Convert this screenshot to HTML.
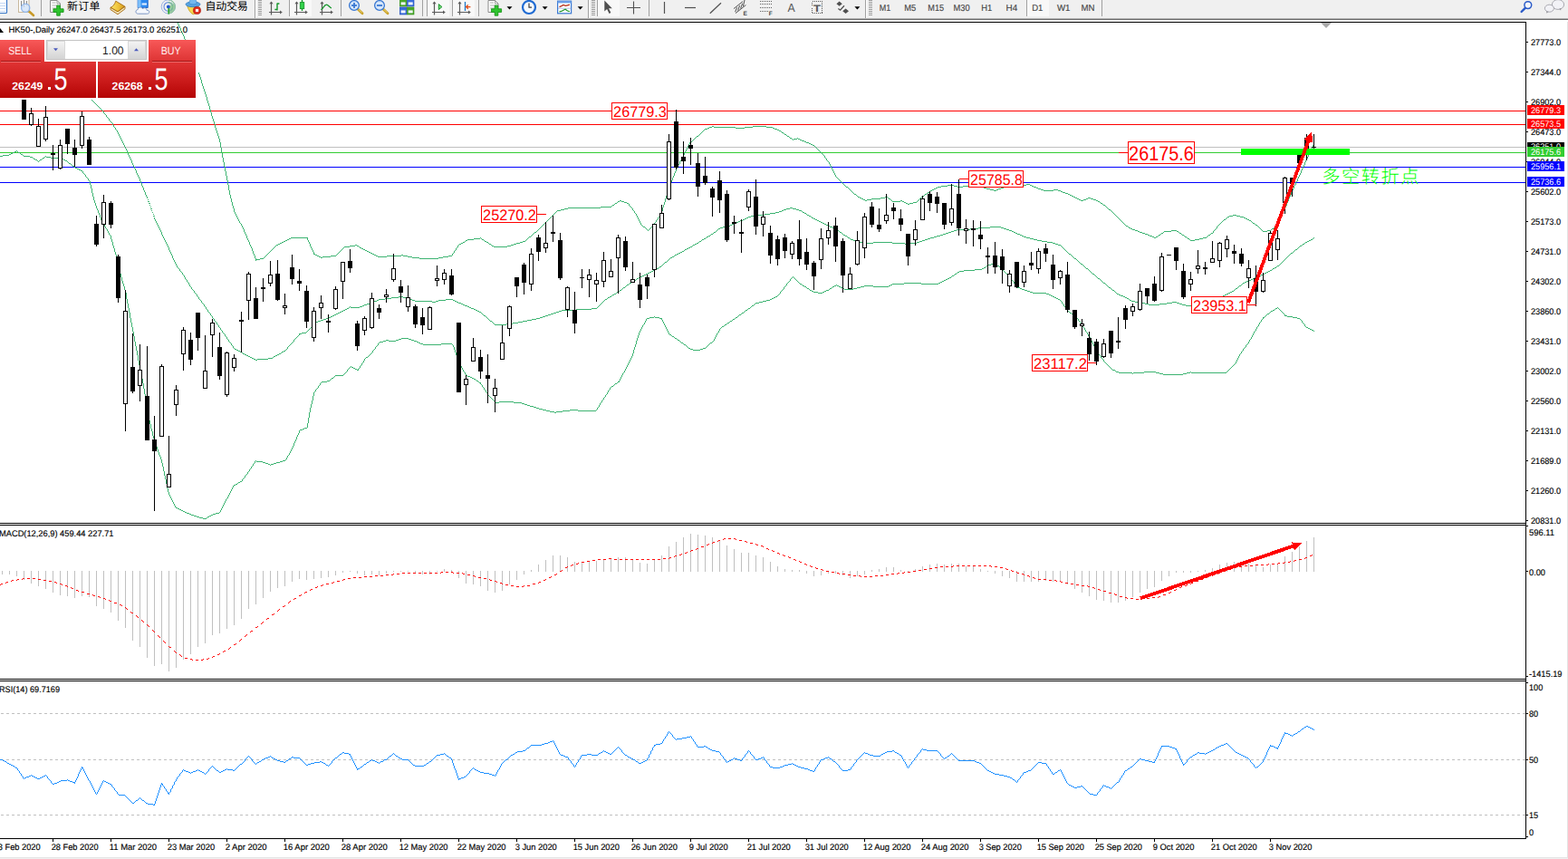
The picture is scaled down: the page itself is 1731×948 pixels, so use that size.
<!DOCTYPE html>
<html><head><meta charset="utf-8"><title>HK50 Daily</title>
<style>html,body{margin:0;padding:0;background:#fff;overflow:hidden}body{width:1731px;height:948px;font-family:"Liberation Sans",sans-serif}svg{display:block}</style>
</head><body>
<svg width="1731" height="948" viewBox="0 0 1731 948" font-family="Liberation Sans, sans-serif" shape-rendering="crispEdges" text-rendering="geometricPrecision">
<rect width="1731" height="948" fill="#fff"/>
<rect x="0" y="122" width="1684" height="1" fill="#ff0000"/>
<rect x="0" y="137" width="1684" height="1" fill="#ff0000"/>
<rect x="0" y="162" width="1684" height="1" fill="#c0c0c0"/>
<rect x="0" y="168" width="1684" height="1" fill="#32cd32"/>
<rect x="0" y="184" width="1684" height="1" fill="#0000ff"/>
<rect x="0" y="201" width="1684" height="1" fill="#0000ff"/>
<g id="bb">
<path d="M195 24.5h1M196.5 25V27M197.5 27V29M198.5 29V31M199.5 31V34M200.5 34V36M201.5 36V38M202.5 38V40M203.5 40V43M204.5 43V45M205.5 45V48M206.5 48V50M207.5 50V53M208.5 53V55M209.5 55V57M210.5 57V60M211.5 60V62M212.5 62V65M213.5 65V67M214.5 67V70M215.5 70V72M216.5 72V75M217.5 75V77M218.5 77V80M219.5 80V82M220.5 82V85M221.5 85V88M222.5 88V92M223.5 92V95M224.5 95V98M225.5 98V101M226.5 101V104M227.5 104V107M228.5 107V111M229.5 111V114M230.5 114V117M231.5 117V121M232.5 121V124M233.5 124V128M234.5 128V131M235.5 131V134M236.5 134V137M237.5 137V141M238.5 141V144M239.5 144V147M240.5 147V150M241.5 150V153M242.5 153V157M243.5 157V163M244.5 163V169M245.5 169V174M246.5 174V179M247.5 179V184M248.5 184V189M249.5 189V194M250.5 194V199M251.5 199V204M252.5 204V210M253.5 210V215M254.5 215V219M255.5 219V223M256.5 223V227M257.5 227V230M258.5 230V234M259.5 234V236M260.5 236V238M261.5 238V240M262.5 240V242M263.5 242V244M264.5 244V246M265 246.5h1M266.5 247V249M267.5 249V251M268.5 251V253M269.5 253V256M270.5 256V258M271.5 258V260M272.5 260V263M273.5 263V265M274.5 265V267M275.5 267V270M276.5 270V272M277.5 272V274M278.5 274V277M279.5 277V280M280.5 280V282M281.5 282V285M282.5 285V288M283 286.5H287M287 285.5H291M291 284.5h1M292 283.5h1M293 282.5h1M294 281.5h1M295 280.5h1M296 279.5h1M297 278.5h1M298 277.5h1M299 276.5h1M300 275.5h1M301 274.5h1M302 273.5h1M303 272.5h1M304 271.5h1M305 270.5H307M307 269.5H309M309 268.5H311M311 267.5H313M313 266.5H315M315 265.5H317M317 264.5H319M319 263.5H321M321 262.5H340M339.5 263V265M340.5 265V267M341.5 267V269M342.5 269V272M343.5 272V274M344.5 274V276M345.5 276V278M346.5 278V281M347 280.5h1M348 281.5H350M350 282.5H352M352 283.5H354M354 284.5H356M356 283.5H365M365 282.5H371M371 281.5h1M372 280.5h1M373 279.5h1M374 278.5h1M375 277.5h1M376 276.5h1M377 275.5h1M378 274.5h1M379 273.5h1M380 272.5H386M386 271.5H392M392 270.5H394M394 271.5H396M396 272.5h1M397 273.5H399M399 274.5H401M401 275.5H403M403 276.5H405M405 277.5H407M407 278.5H409M409 279.5H411M411 280.5H413M413 281.5H415M415 282.5H417M417 283.5H427M427 282.5H443M443 281.5H445M445 282.5H450M450 283.5H455M455 284.5H463M463 285.5H484M484 284.5H489M489 283.5H495M495 282.5H499M499.5 280V282M500 279.5h1M501.5 277V279M502 276.5h1M503.5 274V276M504 273.5h1M505.5 271V273M506 270.5h1M507 269.5H509M509 268.5H511M511 267.5H513M513 266.5h1M514 265.5H516M516 264.5H523M523 263.5H530M530 262.5h1M531 263.5h1M532 264.5H534M534 265.5h1M535 266.5H537M537 267.5H539M539 268.5h1M540 269.5H542M542 270.5h1M543 271.5H545M545 272.5H560M560 271.5H564M564 270.5H567M567 269.5H570M570 268.5H574M574 267.5H577M577 266.5H580M580 265.5h1M581 264.5h1M582 263.5h1M583 262.5h1M584 261.5H586M586 260.5h1M587 259.5h1M588 258.5h1M589 257.5h1M590 256.5H592M592 255.5h1M593 254.5h1M594 253.5h1M595 252.5h1M596 251.5h1M597 250.5h1M598 249.5h1M599 248.5h1M600 247.5h1M601 246.5h1M602 245.5h1M603 244.5h1M604 243.5h1M605 242.5h1M606 241.5h1M607 240.5h1M608 239.5h1M609 238.5h1M610 237.5h1M611 236.5h1M612 235.5h1M613 234.5h1M614 233.5h1M615 232.5H619M619 231.5H623M623 230.5H627M627 229.5H663M663 228.5H675M675 227.5h1M676 226.5H678M678 225.5h1M679 224.5H681M681 223.5h1M682 222.5H684M684 221.5H686M686 222.5H689M689 223.5H692M692 224.5H694M694.5 225V227M695 227.5h1M696 228.5h1M697 229.5h1M698.5 230V232M699 232.5h1M700.5 233V235M701 235.5h1M702.5 236V238M703.5 238V240M704.5 240V242M705.5 242V244M706.5 244V246M707.5 246V248M708 248.5h1M709 249.5h1M710 250.5H712M712 251.5h1M713 252.5h1M714 253.5h1M715 254.5h1M716 253.5h1M717 252.5h1M718 251.5h1M719 250.5h1M720 249.5h1M721 248.5h1M722.5 246V248M723 245.5h1M724.5 243V245M725 242.5h1M726.5 240V242M727 239.5h1M728.5 237V239M729.5 235V237M730.5 233V235M731.5 229V233M732.5 226V229M733.5 223V226M734.5 219V223M735.5 216V219M736.5 213V216M737.5 209V213M738.5 206V209M739.5 204V206M740.5 201V204M741.5 199V201M742.5 196V199M743.5 194V196M744.5 191V194M745.5 189V191M746.5 186V189M747 185.5h1M748.5 182V185M749 181.5h1M750.5 178V181M751 177.5h1M752.5 174V177M753 173.5h1M754.5 171V173M755.5 169V171M756.5 167V169M757.5 165V167M758.5 163V165M759.5 161V163M760.5 159V161M761.5 157V159M762 156.5H764M764 155.5h1M765 154.5h1M766 153.5h1M767 152.5h1M768 151.5h1M769 150.5H771M771 149.5h1M772 148.5h1M773 147.5h1M774 146.5h1M775 145.5h1M776 144.5h1M777 143.5h1M778 142.5H781M781 141.5H783M783 140.5H786M786 139.5H788M788 140.5H812M812 141.5H822M822 140.5H831M831 139.5H846M846 140.5H853M853 141.5H855M855 142.5H858M858 143.5H860M860 144.5H862M862 145.5h1M863 146.5H865M865 147.5h1M866 148.5H868M868 149.5h1M869 150.5H871M871 151.5h1M872 152.5H874M874 153.5h1M875 154.5h1M876 153.5H880M880 152.5h1M881 153.5H883M883 154.5H885M885 155.5H888M888 156.5H890M890 157.5H893M893 158.5H895M895 159.5H897M897 160.5H899M899 161.5h1M900 162.5h1M901 163.5h1M902 164.5h1M903 165.5h1M904 166.5h1M905 167.5h1M906 168.5h1M907 169.5h1M908 170.5h1M909 171.5h1M910.5 172V174M911 174.5h1M912.5 175V177M913 177.5h1M914 178.5h1M915.5 179V181M916.5 181V183M917.5 183V185M918.5 185V187M919.5 187V189M920.5 189V191M921.5 191V193M922.5 193V195M923 195.5h1M924 196.5h1M925 197.5h1M926 198.5h1M927 199.5h1M928 200.5h1M929 201.5h1M930 202.5h1M931 203.5h1M932 204.5h1M933 205.5h1M934 206.5H936M936 207.5h1M937 208.5h1M938 209.5h1M939 210.5h1M940 211.5h1M941 212.5h1M942 213.5h1M943 214.5H945M945 215.5h1M946 216.5h1M947 217.5H949M949 218.5H951M951 219.5H953M953 220.5H955M955 221.5H957M957 220.5H962M962 219.5H972M972 218.5H977M977 217.5H980M980 218.5h1M981 219.5H983M983 220.5h1M984 221.5h1M985 222.5H994M994 221.5H996M996 222.5H998M998 223.5H1000M1000 224.5H1002M1002 225.5H1004M1004 224.5H1008M1008 223.5H1012M1012 222.5h1M1013 221.5h1M1014 220.5h1M1015 219.5h1M1016 218.5h1M1017 217.5h1M1018 216.5H1020M1020 215.5h1M1021 214.5H1023M1023 213.5h1M1024 212.5H1026M1026 211.5h1M1027 210.5H1029M1029 209.5H1031M1031 208.5H1033M1033 207.5H1035M1035 206.5H1039M1039 205.5H1046M1046 204.5H1053M1053 205.5H1057M1057 206.5H1063M1063 205.5H1083M1083 206.5H1086M1086 207.5H1089M1089 208.5H1093M1093 209.5H1097M1097 210.5H1100M1100 209.5H1102M1102 208.5H1105M1105 207.5H1108M1108 206.5H1114M1114 205.5H1120M1120 204.5H1133M1133 203.5H1137M1137 204.5H1139M1139 205.5H1141M1141 206.5H1144M1144 207.5H1146M1146 208.5H1149M1149 209.5H1152M1152 210.5H1163M1163 209.5H1168M1168 210.5H1171M1171 211.5H1173M1173 212.5H1176M1176 213.5H1179M1179 214.5H1181M1181 215.5H1183M1183 216.5H1185M1185 217.5H1187M1187 218.5H1189M1189 219.5H1191M1191 220.5H1193M1193 221.5H1196M1196 220.5H1199M1199 219.5H1201M1201 218.5H1204M1204 219.5H1207M1207 220.5H1210M1210 221.5H1212M1212 222.5H1214M1214 223.5h1M1215 224.5H1217M1217 225.5h1M1218 226.5H1220M1220 227.5h1M1221 228.5h1M1222 229.5h1M1223 230.5h1M1224 231.5H1226M1226 232.5h1M1227 233.5h1M1228 234.5h1M1229 235.5h1M1230 236.5h1M1231 237.5h1M1232 238.5h1M1233 239.5h1M1234 240.5h1M1235 241.5h1M1236 242.5h1M1237 243.5h1M1238 244.5h1M1239 245.5h1M1240 246.5h1M1241 247.5h1M1242 248.5h1M1243 249.5H1245M1245 250.5h1M1246 251.5H1248M1248 252.5H1250M1250 253.5H1253M1253 254.5H1256M1256 255.5H1258M1258 256.5H1261M1261 257.5H1264M1264 258.5H1267M1267 259.5H1269M1269 260.5H1272M1272 261.5H1274M1274 262.5H1276M1276 261.5H1278M1278 260.5h1M1279 259.5H1281M1281 258.5h1M1282 257.5H1284M1284 256.5h1M1285 255.5H1293M1293 254.5H1299M1299 255.5H1301M1301 256.5h1M1302 257.5H1304M1304 258.5h1M1305 259.5H1307M1307 260.5h1M1308 261.5H1310M1310 262.5h1M1311 263.5H1313M1313 264.5h1M1314 265.5H1319M1319 264.5H1324M1324 263.5H1328M1328 262.5H1332M1332 261.5h1M1333 260.5h1M1334 259.5H1336M1336 258.5h1M1337 257.5H1339M1339.5 255V257M1340 254.5h1M1341 253.5h1M1342 252.5h1M1343.5 250V252M1344 249.5h1M1345 248.5h1M1346 247.5h1M1347 246.5h1M1348 245.5h1M1349 244.5h1M1350 243.5h1M1351 242.5H1353M1353 241.5h1M1354 240.5h1M1355 239.5H1357M1357 238.5H1361M1361 237.5H1365M1365 238.5H1369M1369 239.5H1373M1373 240.5H1375M1375 241.5H1377M1377 242.5H1379M1379 243.5H1381M1381 244.5h1M1382 245.5h1M1383 246.5H1385M1385 247.5h1M1386 248.5H1388M1388 249.5h1M1389 250.5h1M1390 251.5h1M1391 252.5h1M1392 253.5h1M1393 254.5h1M1394 255.5H1399M1399 254.5H1403M1403 253.5h1M1404 252.5H1406M1406 251.5h1M1407 250.5h1M1408 249.5h1M1409.5 247V249M1410.5 245V247M1411.5 243V245M1412.5 241V243M1413.5 239V241M1414.5 237V239M1415.5 235V237M1416.5 233V235M1417.5 231V233M1418.5 229V231M1419.5 227V229M1420.5 224V227M1421.5 222V224M1422.5 219V222M1423.5 217V219M1424.5 215V217M1425.5 212V215M1426.5 210V212M1427.5 208V210M1428.5 205V208M1429 204.5h1M1430.5 201V204M1431 200.5h1M1432.5 197V200M1433.5 195V197M1434.5 193V195M1435.5 191V193M1436.5 188V191M1437.5 186V188M1438.5 184V186M1439.5 182V184M1440.5 179V182M1441.5 177V179M1442.5 175V177M1443.5 173V175M1444.5 171V173M1445.5 168V171M1446.5 166V168M1447.5 164V166M1448.5 162V164M1449.5 160V162M1450.5 158V160" fill="none" stroke="#3cb371" stroke-width="1"/>
<path d="M92 100.5h1M93 101.5h1M94 102.5h1M95 103.5h1M96 104.5h1M97 105.5h1M98 106.5h1M99.5 107V109M100 109.5h1M101 110.5h1M102 111.5h1M103 112.5h1M104 113.5h1M105 114.5h1M106 115.5h1M107 116.5h1M108 117.5h1M109 118.5h1M110 119.5h1M111 120.5h1M112 121.5h1M113 122.5h1M114.5 123V125M115 125.5h1M116 126.5h1M117.5 127V129M118 129.5h1M119 130.5h1M120.5 131V133M121 133.5h1M122 134.5h1M123 135.5h1M124.5 136V138M125.5 138V140M126 140.5h1M127.5 141V143M128 143.5h1M129.5 144V146M130.5 146V148M131.5 148V150M132.5 150V152M133.5 152V154M134.5 154V156M135.5 156V158M136.5 158V160M137.5 160V162M138.5 162V164M139.5 164V166M140.5 166V169M141.5 169V171M142.5 171V173M143.5 173V175M144.5 175V177M145.5 177V180M146.5 180V182M147.5 182V184M148.5 184V186M149.5 186V188M150.5 188V191M151.5 191V193M152.5 193V195M153.5 195V197M154.5 197V200M155.5 200V202M156.5 202V205M157.5 205V207M158.5 207V210M159.5 210V212M160.5 212V215M161.5 215V217M162.5 217V219M163 220.5h1M163 222.5H165M164 224.5H166M165 226.5h1M166 228.5h1M166 230.5H168M167 232.5h1M168 234.5h1M169 236.5h1M169 238.5H171M170.5 240V242M171.5 242V244M172.5 244V246M173.5 246V248M174.5 248V250M175.5 250V252M176.5 252V254M177.5 254V256M178.5 256V259M179.5 259V261M180.5 261V263M181.5 263V265M182.5 265V267M183.5 267V269M184.5 269V271M185.5 271V273M186.5 273V276M187.5 276V278M188.5 278V280M189.5 280V282M190.5 282V285M191.5 285V287M192.5 287V289M193.5 289V291M194.5 291V293M195.5 293V295M196 295.5h1M197 296.5h1M198.5 297V299M199 299.5h1M200 300.5h1M201.5 301V303M202 303.5h1M203.5 304V306M204.5 306V308M205 308.5h1M206.5 309V311M207 311.5h1M208.5 312V314M209.5 314V316M210 316.5h1M211.5 317V319M212 319.5h1M213 320.5h1M214.5 321V323M215 323.5h1M216 324.5h1M217.5 325V327M218 327.5h1M219.5 328V330M220 330.5h1M221 331.5h1M222.5 332V334M223 334.5h1M224 335.5h1M225.5 336V338M226 338.5h1M227.5 339V341M228 341.5h1M229.5 342V344M230 344.5h1M231 345.5h1M232.5 346V348M233 348.5h1M234.5 349V351M235 351.5h1M236.5 352V354M237 354.5h1M238 355.5h1M239.5 356V358M240 358.5h1M241.5 359V361M242 361.5h1M243.5 362V364M244 364.5h1M245.5 365V367M246 367.5h1M247 368.5h1M248.5 369V371M249 371.5h1M250.5 372V374M251 374.5h1M252.5 375V377M253 377.5h1M254 378.5h1M255.5 379V381M256 381.5h1M257.5 382V384M258 384.5h1M259 385.5H261M261 386.5H263M263 387.5H265M265 388.5H267M267 389.5h1M268 390.5H270M270 391.5H272M272 392.5H274M274 393.5H276M276 394.5H278M278 395.5H280M280 396.5H282M282 397.5H284M284 396.5H296M296 395.5H301M301 394.5h1M302 393.5H304M304 392.5H306M306 391.5H308M308 390.5H310M310 389.5h1M311 388.5H313M313 387.5H315M315 386.5h1M316 385.5h1M317.5 383V385M318 382.5h1M319 381.5h1M320 380.5h1M321 379.5h1M322 378.5h1M323 377.5h1M324.5 375V377M325 374.5h1M326 373.5h1M327 372.5h1M328 371.5h1M329 370.5h1M330.5 368V370M331 368.5H333M333 367.5H338M338 366.5h1M339 365.5h1M340 364.5h1M341 363.5h1M342 362.5h1M343 361.5h1M344 360.5h1M345 359.5h1M346 358.5h1M347 357.5h1M348 356.5h1M349 355.5H351M351 354.5H354M354 353.5H357M357 352.5H360M360 351.5H363M363 350.5H365M365 349.5H367M367 348.5H369M369 347.5H371M371 346.5H373M373 345.5H375M375 344.5H377M377 343.5H379M379 342.5H381M381 341.5H383M383 340.5H385M385 339.5h1M386 338.5h1M387 339.5H397M397 338.5H400M400 337.5H402M402 336.5H405M405 335.5H408M408 334.5H410M410 333.5H413M413 332.5H416M416 331.5H418M418 330.5H425M425 329.5H432M432 328.5H440M440 327.5H445M445 328.5H448M448 329.5H451M451 330.5H455M455 331.5H458M458 332.5H477M477 333.5H481M481 332.5H484M484 331.5H492M492 330.5H500M500 331.5H502M502 332.5H504M504 333.5H506M506 334.5H509M509 335.5H511M511 336.5H513M513 337.5H516M516 338.5H518M518 339.5H520M520 340.5H523M523 341.5H525M525 342.5H527M527 343.5H529M529 344.5H531M531 345.5h1M532 346.5h1M533 347.5h1M534 348.5H536M536 349.5h1M537 350.5h1M538 351.5h1M539 352.5h1M540 353.5h1M541 354.5H543M543 355.5h1M544 356.5h1M545 357.5h1M546 358.5H559M559 357.5H566M566 356.5H572M572 355.5H577M577 354.5H582M582 353.5H587M587 352.5H592M592 351.5H596M596 350.5H599M599 349.5H602M602 348.5H605M605 347.5H608M608 346.5H611M611 345.5H614M614 344.5H617M617 343.5H620M620 342.5H636M636 341.5H653M653 340.5H659M659 339.5h1M660 338.5h1M661 337.5h1M662 336.5h1M663 335.5h1M664 334.5h1M665 333.5h1M666 332.5h1M667 331.5h1M668 330.5H670M670 329.5h1M671 328.5H673M673 327.5H675M675 326.5h1M676 325.5H678M678 324.5H680M680 323.5h1M681 322.5H683M683 321.5h1M684 320.5H686M686 319.5h1M687 318.5h1M688 317.5H690M690 316.5h1M691 315.5h1M692 314.5H694M694 313.5h1M695 312.5H697M697 311.5h1M698 310.5H700M700 309.5H702M702 308.5h1M703 307.5H705M705 306.5H707M707 305.5H709M709 304.5H711M711 303.5H713M713 302.5H715M715 301.5H717M717 300.5H719M719 299.5H721M721 298.5H723M723 297.5H725M725 296.5H727M727 295.5h1M728 294.5H730M730 293.5h1M731 292.5h1M732 291.5h1M733 290.5h1M734 289.5H736M736 288.5h1M737 287.5h1M738 286.5h1M739 285.5h1M740 284.5H742M742 283.5H744M744 282.5h1M745 281.5H747M747 280.5H749M749 279.5H751M751 278.5H753M753 277.5H755M755 276.5h1M756 275.5H758M758 274.5H760M760 273.5H762M762 272.5H764M764 271.5h1M765 270.5H767M767 269.5H769M769 268.5H771M771 267.5h1M772 266.5H774M774 265.5h1M775 264.5H777M777 263.5H779M779 262.5h1M780 261.5H782M782 260.5H784M784 259.5h1M785 258.5H787M787 257.5h1M788 256.5H790M790 255.5h1M791 254.5h1M792 253.5h1M793 252.5H795M795 251.5H798M798 250.5H803M803 249.5H806M806 248.5H808M808 247.5H810M810 246.5H813M813 245.5H815M815 244.5H817M817 243.5H820M820 242.5H822M822 241.5H824M824 240.5H826M826 239.5H829M829 238.5H837M837 237.5H844M844 236.5H850M850 235.5H856M856 234.5H860M860 233.5H863M863 232.5H865M865 231.5H868M868 230.5H872M872 229.5H875M875 230.5H879M879 231.5H882M882 232.5H885M885 233.5h1M886 234.5H888M888 235.5H890M890 236.5h1M891 237.5H893M893 238.5H895M895 239.5h1M896 240.5H898M898 241.5H900M900 242.5H902M902 243.5H904M904 244.5H906M906 245.5H908M908 246.5H910M910 247.5H912M912 248.5H914M914 249.5H916M916 250.5H919M919 251.5H921M921 252.5H924M924 253.5h1M925 254.5h1M926 255.5h1M927 256.5H929M929 257.5h1M930 258.5h1M931 259.5H933M933 260.5H935M935 261.5h1M936 262.5H938M938 263.5h1M939 264.5H942M942 265.5H944M944 266.5H947M947 267.5H952M952 268.5H964M964 267.5H985M985 268.5H999M999 269.5H1005M1005 268.5H1012M1012 267.5H1015M1015 266.5H1018M1018 265.5H1021M1021 264.5H1024M1024 263.5H1027M1027 262.5H1031M1031 261.5H1034M1034 260.5H1038M1038 259.5H1041M1041 258.5H1044M1044 257.5H1047M1047 256.5H1050M1050 255.5H1053M1053 254.5H1056M1056 253.5H1071M1071 252.5H1080M1080 251.5H1093M1093 250.5H1105M1105 251.5H1108M1108 252.5H1111M1111 253.5H1114M1114 254.5H1117M1117 255.5H1119M1119 256.5H1121M1121 257.5H1123M1123 258.5H1126M1126 259.5H1128M1128 260.5H1130M1130 261.5H1133M1133 262.5H1137M1137 263.5H1141M1141 264.5H1145M1145 265.5H1150M1150 266.5H1156M1156 267.5H1162M1162 268.5H1165M1165 269.5H1168M1168 270.5H1171M1171 271.5h1M1172 272.5h1M1173 273.5h1M1174 274.5h1M1175 275.5h1M1176 276.5h1M1177 277.5h1M1178 278.5h1M1179 279.5h1M1180 280.5H1182M1182 281.5h1M1183 282.5h1M1184 283.5h1M1185 284.5h1M1186 285.5H1188M1188 286.5h1M1189 287.5h1M1190 288.5h1M1191 289.5h1M1192 290.5h1M1193 291.5H1195M1195 292.5h1M1196 293.5h1M1197 294.5h1M1198 295.5h1M1199 296.5H1201M1201 297.5h1M1202 298.5h1M1203 299.5h1M1204 300.5h1M1205 301.5h1M1206 302.5H1208M1208 303.5h1M1209 304.5h1M1210 305.5h1M1211 306.5h1M1212 307.5H1214M1214 308.5h1M1215 309.5h1M1216 310.5h1M1217 311.5h1M1218 312.5H1220M1220 313.5h1M1221 314.5h1M1222 315.5h1M1223 316.5h1M1224 317.5H1226M1226 318.5h1M1227 319.5h1M1228 320.5H1230M1230 321.5h1M1231 322.5h1M1232 323.5h1M1233 324.5H1235M1235 325.5H1237M1237 326.5H1240M1240 327.5H1242M1242 328.5H1244M1244 329.5H1246M1246 330.5h1M1247 331.5H1249M1249 332.5H1253M1253 333.5H1259M1259 334.5H1264M1264 335.5H1268M1268 336.5H1280M1280 335.5H1288M1288 334.5H1294M1294 333.5H1299M1299 334.5H1302M1302 335.5H1305M1305 336.5H1309M1309 337.5H1315M1315 338.5h1M1316 337.5H1320M1320 336.5H1324M1324 335.5H1328M1328 334.5H1332M1332 333.5H1334M1334 332.5H1337M1337 331.5H1340M1340 330.5H1342M1342 329.5H1345M1345 328.5H1348M1348 327.5H1350M1350 326.5H1352M1352 325.5H1354M1354 324.5H1356M1356 323.5H1358M1358 322.5H1360M1360 321.5H1362M1362 320.5h1M1363 319.5h1M1364 318.5H1366M1366 317.5h1M1367 316.5h1M1368 315.5H1370M1370 314.5h1M1371 313.5h1M1372 312.5H1374M1374 311.5H1376M1376 310.5H1379M1379 309.5H1381M1381 308.5H1383M1383 307.5H1385M1385 306.5H1387M1387 305.5H1389M1389 304.5H1392M1392 303.5H1394M1394 302.5H1396M1396 301.5H1398M1398 300.5H1400M1400 299.5H1402M1402 298.5H1404M1404 297.5h1M1405 296.5H1407M1407 295.5H1409M1409 294.5h1M1410 293.5H1412M1412 292.5h1M1413 291.5h1M1414 290.5h1M1415 289.5h1M1416 288.5h1M1417 287.5h1M1418 286.5h1M1419 285.5h1M1420 284.5h1M1421 283.5h1M1422 282.5h1M1423 281.5h1M1424 280.5h1M1425 279.5H1427M1427 278.5h1M1428 277.5h1M1429 276.5h1M1430 275.5H1432M1432 274.5h1M1433 273.5h1M1434 272.5h1M1435 271.5H1437M1437 270.5h1M1438 269.5H1440M1440 268.5h1M1441 267.5H1443M1443 266.5H1445M1445 265.5H1447M1447 264.5H1449M1449 263.5h1M1450 262.5h1" fill="none" stroke="#3cb371" stroke-width="1"/>
<path d="M0 172.5H3M3 171.5H10M10 170.5H12M12 169.5H14M14 168.5H16M16 167.5H18M18 166.5h1M19 167.5h1M20 168.5H22M22 169.5h1M23 170.5H25M25 171.5h1M26 172.5H33M33 173.5H36M36 174.5h1M37 175.5H39M39 176.5H41M41 177.5h1M42 178.5h1M43 177.5h1M44 176.5H46M46 175.5h1M47 174.5H49M49 173.5h1M50 172.5h1M51 173.5H56M56 174.5H68M68 175.5H70M70 176.5H72M72 177.5H74M74 178.5h1M75 179.5h1M76 180.5H78M78 181.5h1M79 182.5h1M80 183.5H82M82 184.5h1M83 185.5H85M85 186.5H87M87 187.5H89M89 188.5H91M91.5 189V191M92 191.5h1M93 192.5h1M94.5 193V195M95 195.5h1M96 196.5h1M97.5 197V199M98 199.5h1M99.5 200V204M100.5 204V208M101.5 208V213M102.5 213V217M103.5 217V221M104.5 221V224M105.5 224V227M106.5 227V230M107.5 230V232M108.5 232V235M109.5 235V237M110.5 237V240M111.5 240V243M112 243.5h1M113.5 244V246M114.5 246V248M115.5 248V250M116.5 250V252M117 252.5h1M118.5 253V255M119.5 255V257M120.5 257V259M121 259.5h1M122.5 260V264M123.5 264V267M124.5 267V271M125.5 271V274M126.5 274V278M127.5 278V281M128.5 281V285M129.5 285V290M130.5 290V294M131.5 294V298M132.5 298V302M133.5 302V306M134.5 306V310M135.5 310V313M136.5 313V316M137.5 316V320M138.5 320V323M139.5 323V330M140.5 330V335M141.5 335V340M142.5 340V345M143.5 345V351M144.5 351V356M145.5 356V361M146.5 361V366M147.5 366V371M148.5 371V377M149.5 377V382M150.5 382V387M151.5 387V392M152.5 392V398M153.5 398V403M154.5 403V408M155.5 408V413M156.5 413V418M157.5 418V423M158.5 423V429M159.5 429V435M160.5 435V440M161.5 440V446M162.5 446V452M163.5 452V458M164.5 458V464M165.5 464V468M166.5 468V473M167.5 473V476M168.5 476V481M169.5 481V484M170.5 484V488M171.5 488V491M172.5 491V493M173.5 493V496M174.5 496V499M175.5 499V502M176.5 502V504M177.5 504V507M178.5 507V511M179.5 511V515M180.5 515V520M181.5 520V525M182.5 525V529M183.5 529V534M184.5 534V539M185.5 539V543M186.5 543V546M187.5 546V548M188.5 548V550M189.5 550V552M190.5 552V554M191.5 554V556M192.5 556V558M193.5 558V560M194 560.5H196M196 561.5H198M198 562.5H200M200 563.5H202M202 564.5H204M204 565.5H206M206 566.5H209M209 567.5H211M211 568.5H214M214 569.5H217M217 570.5H220M220 571.5H224M224 572.5H228M228 571.5h1M229 570.5H231M231 569.5H233M233 568.5H235M235 567.5H238M238 566.5H242M242 565.5h1M243.5 563V565M244.5 561V563M245.5 559V561M246.5 557V559M247.5 555V557M248.5 553V555M249.5 551V553M250 550.5h1M251.5 548V550M252.5 546V548M253.5 544V546M254.5 542V544M255.5 540V542M256.5 538V540M257.5 536V538M258 535.5H260M260 534.5H262M262 533.5h1M263 532.5H265M265 531.5H267M267.5 529V531M268 528.5h1M269 527.5h1M270.5 525V527M271 524.5h1M272 523.5h1M273.5 521V523M274 520.5h1M275.5 518V520M276 517.5h1M277.5 515V517M278 514.5h1M279.5 512V514M280 511.5h1M281.5 509V511M282 508.5h1M283 509.5H290M290 510.5H293M293 511.5H296M296 512.5H298M298 513.5h1M299 512.5H302M302 511.5H305M305 510.5H309M309 509.5H312M312 508.5H315M315 507.5h1M316.5 505V507M317.5 503V505M318 502.5h1M319.5 500V502M320.5 498V500M321.5 496V498M322.5 494V496M323.5 492V494M324.5 489V492M325.5 487V489M326.5 485V487M327.5 482V485M328.5 480V482M329.5 478V480M330.5 475V478M331 474.5H334M334 473.5H336M336 472.5H339M339.5 467V472M340.5 461V467M341.5 455V461M342.5 450V455M343.5 446V450M344.5 442V446M345.5 437V442M346.5 433V437M347 432.5h1M348.5 430V432M349 429.5h1M350 428.5h1M351.5 426V428M352 425.5h1M353.5 423V425M354 422.5h1M355 421.5H361M361 420.5H364M364 419.5h1M365 418.5h1M366 417.5H368M368 416.5h1M369 415.5h1M370 414.5H379M379 413.5h1M380 412.5h1M381 411.5h1M382 410.5h1M383.5 408V410M384 407.5h1M385 406.5h1M386 405.5h1M387 404.5h1M388 405.5H390M390 406.5H392M392 407.5H394M394 408.5H396M395 407.5h1M396 406.5h1M397.5 404V406M398 403.5h1M399.5 401V403M400 400.5h1M401.5 398V400M402.5 396V398M403 395.5h1M404 394.5H406M406 393.5h1M407 392.5h1M408 391.5h1M409 390.5h1M410 389.5h1M411.5 387V389M412 386.5h1M413 385.5h1M414.5 383V385M415 382.5h1M416 381.5h1M417.5 379V381M418 378.5h1M419 377.5H423M423 376.5H426M426 375.5H429M429 376.5H437M437 375.5H440M440 374.5H443M443 373.5H451M451 374.5H454M454 375.5H457M457 376.5H460M460 377.5H462M462 378.5H464M464 379.5H467M467 380.5H487M487 379.5H499M499 380.5h1M500.5 381V383M501.5 383V386M502.5 386V389M503.5 389V392M504.5 392V395M505.5 395V398M506.5 398V401M507.5 401V403M508 403.5h1M509.5 404V406M510.5 406V408M511.5 408V410M512 410.5h1M513.5 411V413M514.5 413V415M515 414.5h1M516 415.5H519M519 416.5H521M521 417.5H523M523 418.5H525M525 419.5h1M526 420.5H528M528 421.5h1M529 422.5H531M530 423.5h1M531 424.5h1M532.5 425V427M533 427.5h1M534.5 428V430M535 430.5h1M536.5 431V433M537 433.5h1M538.5 434V436M539 436.5h1M540 437.5h1M541 438.5h1M542 439.5h1M543 440.5h1M544 441.5h1M545 442.5h1M546 443.5h1M547 444.5H551M551 443.5H567M567 444.5H576M576 445.5H579M579 446.5H582M582 447.5H585M585 448.5H589M589 449.5H592M592 450.5H595M595 451.5H599M599 452.5H603M603 453.5H607M607 454.5H612M612 455.5H614M614 454.5H621M621 453.5H629M629 452.5H638M638 453.5H658M658 452.5h1M659.5 450V452M660 449.5h1M661.5 447V449M662.5 445V447M663 444.5h1M664.5 442V444M665 441.5h1M666.5 439V441M667 438.5h1M668.5 436V438M669 435.5h1M670.5 433V435M671.5 431V433M672 430.5h1M673.5 428V430M674 427.5h1M675 426.5H677M677 425.5h1M678 424.5h1M679 423.5H681M681 422.5h1M682 421.5H684M683 420.5h1M684.5 418V420M685.5 416V418M686.5 414V416M687.5 412V414M688 411.5h1M689.5 409V411M690.5 407V409M691.5 405V407M692.5 403V405M693.5 401V403M694.5 399V401M695.5 397V399M696.5 395V397M697.5 393V395M698.5 390V393M699.5 386V390M700.5 383V386M701.5 380V383M702.5 376V380M703.5 373V376M704.5 370V373M705.5 367V370M706.5 365V367M707.5 363V365M708.5 361V363M709.5 359V361M710 358.5h1M711.5 356V358M712.5 354V356M713.5 352V354M714 351.5H717M717 350.5H722M722 349.5h1M723 350.5H728M728 351.5H731M730 352.5h1M731.5 353V355M732.5 355V357M733.5 357V359M734.5 359V361M735.5 361V363M736.5 363V365M737.5 365V367M738.5 367V369M739 369.5H741M741 370.5h1M742 371.5H744M744 372.5h1M745 373.5H747M747 374.5h1M748 375.5H750M750 376.5h1M751 377.5h1M752 378.5H754M754 379.5h1M755 380.5H757M757 381.5h1M758 382.5h1M759 383.5h1M760 384.5H762M762 385.5H765M765 386.5H773M773 385.5H776M776 384.5H779M779 383.5h1M780 382.5h1M781 381.5h1M782 380.5h1M783 379.5h1M784 378.5H786M786 377.5h1M787 376.5h1M788.5 374V376M789.5 372V374M790.5 370V372M791.5 368V370M792 367.5h1M793.5 365V367M794.5 363V365M795 362.5h1M796 361.5h1M797 360.5H799M799 359.5h1M800 358.5H802M802 357.5h1M803 356.5H805M805 355.5h1M806 354.5H808M808 353.5h1M809 352.5H811M811 351.5h1M812 350.5H814M814 349.5h1M815 348.5h1M816 347.5H818M818 346.5h1M819 345.5H821M821 344.5h1M822 343.5h1M823 342.5H825M825 341.5h1M826 340.5H828M828 339.5h1M829 338.5h1M830 337.5H832M832 336.5h1M833 335.5h1M834 334.5H838M838 333.5H842M842 332.5H846M846 331.5H850M850 330.5H852M852 329.5H854M854 328.5H856M856 327.5H858M858 326.5h1M859 325.5h1M860 324.5h1M861.5 322V324M862 321.5h1M863 320.5h1M864 319.5h1M865.5 317V319M866 316.5h1M867 315.5h1M868.5 313V315M869 312.5h1M870 311.5h1M871 310.5h1M872.5 308V310M873 307.5h1M874 306.5h1M875 305.5h1M876 306.5h1M877 307.5h1M878 308.5h1M879 309.5h1M880 310.5h1M881 311.5h1M882 312.5h1M883 313.5H885M885 314.5h1M886 315.5H888M888 316.5H890M890 317.5h1M891 318.5H893M893 319.5h1M894 320.5H896M896 321.5H898M898 322.5H903M903 323.5H908M908 322.5H910M910 321.5H912M912 320.5H915M915 319.5h1M916 318.5H918M918 317.5h1M919 316.5H921M921 315.5H923M923 314.5h1M924 315.5H926M926 316.5H928M928 317.5H930M930 318.5H932M932 319.5H942M942 318.5H946M946 317.5H950M950 316.5H954M954 315.5H964M964 316.5H981M981 315.5H983M983 314.5H985M985 313.5H998M998 312.5H1017M1017 313.5H1036M1036 312.5H1038M1038 311.5H1040M1040 310.5H1042M1042 309.5H1044M1044 308.5H1046M1046 307.5H1048M1048 306.5H1050M1050 305.5h1M1051 304.5H1053M1053 303.5h1M1054 302.5H1056M1056 301.5h1M1057 300.5H1059M1059 299.5H1064M1064 298.5H1076M1076 297.5H1084M1084 296.5H1086M1086 295.5H1088M1088 294.5h1M1089 293.5H1091M1091 292.5H1094M1094 291.5H1097M1097 290.5H1099M1099 291.5h1M1100 292.5h1M1101 293.5H1103M1103 294.5h1M1104 295.5h1M1105 296.5h1M1106 297.5h1M1107 298.5h1M1108 299.5h1M1109 300.5h1M1110 301.5h1M1111 302.5h1M1112 303.5h1M1113 304.5h1M1114 305.5h1M1115.5 306V308M1116 308.5h1M1117 309.5h1M1118 310.5h1M1119.5 311V313M1120 313.5h1M1121 314.5h1M1122 315.5h1M1123.5 316V318M1124 317.5H1126M1126 318.5H1128M1128 319.5H1131M1131 320.5H1134M1134 321.5H1137M1137 322.5H1140M1140 323.5H1155M1155 324.5H1158M1158 325.5H1160M1160 326.5H1162M1162 327.5H1164M1164 328.5H1166M1166 329.5H1168M1168 330.5H1170M1170 331.5h1M1171 332.5h1M1172.5 333V335M1173 335.5h1M1174.5 336V338M1175 338.5h1M1176 339.5h1M1177 340.5h1M1178.5 341V343M1179 343.5h1M1180 344.5h1M1181 345.5H1183M1183 346.5H1185M1185 347.5h1M1186 348.5H1188M1187 349.5h1M1188 350.5h1M1189 351.5h1M1190.5 352V354M1191 354.5h1M1192 355.5h1M1193 356.5h1M1194.5 357V359M1195.5 359V361M1196 361.5h1M1197.5 362V364M1198.5 364V366M1199 366.5h1M1200.5 367V369M1201.5 369V371M1202 371.5h1M1203.5 372V374M1204.5 374V376M1205.5 376V378M1206.5 378V380M1207.5 380V382M1208.5 382V384M1209.5 384V386M1210.5 386V388M1211 388.5h1M1212.5 389V391M1213 391.5h1M1214 392.5h1M1215.5 393V395M1216 395.5h1M1217 396.5h1M1218.5 397V399M1219 399.5h1M1220 400.5h1M1221 401.5h1M1222 402.5h1M1223 403.5h1M1224 404.5h1M1225 405.5h1M1226 406.5h1M1227 407.5h1M1228 408.5H1231M1231 409.5h1M1232 410.5H1235M1235 411.5H1250M1250 412.5h1M1251 411.5H1263M1263 410.5H1276M1276 411.5H1280M1280 412.5H1284M1284 413.5H1306M1306 412.5H1310M1310 411.5H1314M1314 410.5h1M1315 411.5H1354M1354 410.5h1M1355 409.5h1M1356 408.5h1M1357 407.5h1M1358 406.5h1M1359 405.5h1M1360 404.5h1M1361 403.5h1M1362 402.5h1M1363 401.5h1M1364.5 399V401M1365.5 397V399M1366.5 395V397M1367.5 393V395M1368.5 391V393M1369 390.5h1M1370.5 388V390M1371 387.5h1M1372.5 385V387M1373 384.5h1M1374 383.5h1M1375.5 381V383M1376 380.5h1M1377 379.5h1M1378.5 377V379M1379.5 375V377M1380 374.5h1M1381.5 372V374M1382.5 370V372M1383.5 368V370M1384.5 366V368M1385 365.5h1M1386.5 363V365M1387.5 361V363M1388 360.5h1M1389.5 358V360M1390.5 356V358M1391 355.5h1M1392.5 353V355M1393 352.5h1M1394.5 350V352M1395 350.5h1M1396 349.5h1M1397 348.5h1M1398 347.5h1M1399 346.5H1401M1401 345.5h1M1402 344.5h1M1403 343.5H1405M1405 342.5H1407M1407 341.5h1M1408 340.5H1410M1410 339.5h1M1411 340.5h1M1412 341.5h1M1413 342.5h1M1414 343.5h1M1415 344.5h1M1416 345.5h1M1417 346.5h1M1418.5 347V349M1419 348.5H1421M1421 349.5H1427M1427 350.5H1432M1432 351.5H1435M1435 352.5h1M1436 353.5h1M1437.5 354V356M1438 356.5h1M1439 357.5h1M1440.5 358V360M1441 360.5h1M1442 361.5H1444M1444 362.5H1446M1446 363.5H1448M1448 364.5H1450M1450 365.5h1" fill="none" stroke="#3cb371" stroke-width="1"/>
</g>
<g id="candles">
<rect x="26" y="110" width="1" height="22" fill="#000"/>
<rect x="24" y="110" width="5" height="22" fill="#000"/>
<rect x="34" y="119" width="1" height="20" fill="#000"/>
<rect x="32" y="125" width="5" height="13" fill="#000"/>
<rect x="33" y="126" width="3" height="11" fill="#fff"/>
<rect x="42" y="131" width="1" height="31" fill="#000"/>
<rect x="40" y="139" width="5" height="23" fill="#000"/>
<rect x="41" y="140" width="3" height="21" fill="#fff"/>
<rect x="50" y="117" width="1" height="39" fill="#000"/>
<rect x="48" y="129" width="5" height="25" fill="#000"/>
<rect x="49" y="130" width="3" height="23" fill="#fff"/>
<rect x="58" y="160" width="1" height="28" fill="#000"/>
<rect x="56" y="169" width="5" height="2" fill="#000"/>
<rect x="66" y="154" width="1" height="33" fill="#000"/>
<rect x="64" y="160" width="5" height="26" fill="#000"/>
<rect x="65" y="161" width="3" height="24" fill="#fff"/>
<rect x="74" y="142" width="1" height="28" fill="#000"/>
<rect x="72" y="142" width="5" height="17" fill="#000"/>
<rect x="82" y="154" width="1" height="30" fill="#000"/>
<rect x="80" y="163" width="5" height="8" fill="#000"/>
<rect x="90" y="123" width="1" height="41" fill="#000"/>
<rect x="88" y="128" width="5" height="33" fill="#000"/>
<rect x="89" y="129" width="3" height="31" fill="#fff"/>
<rect x="98" y="151" width="1" height="31" fill="#000"/>
<rect x="96" y="154" width="5" height="28" fill="#000"/>
<rect x="106" y="238" width="1" height="34" fill="#000"/>
<rect x="104" y="247" width="5" height="23" fill="#000"/>
<rect x="114" y="215" width="1" height="48" fill="#000"/>
<rect x="112" y="223" width="5" height="25" fill="#000"/>
<rect x="113" y="224" width="3" height="23" fill="#fff"/>
<rect x="122" y="222" width="1" height="30" fill="#000"/>
<rect x="120" y="224" width="5" height="24" fill="#000"/>
<rect x="130" y="281" width="1" height="53" fill="#000"/>
<rect x="128" y="283" width="5" height="46" fill="#000"/>
<rect x="138" y="320" width="1" height="156" fill="#000"/>
<rect x="136" y="343" width="5" height="103" fill="#000"/>
<rect x="137" y="344" width="3" height="101" fill="#fff"/>
<rect x="146" y="368" width="1" height="66" fill="#000"/>
<rect x="144" y="405" width="5" height="27" fill="#000"/>
<rect x="154" y="380" width="1" height="63" fill="#000"/>
<rect x="152" y="408" width="5" height="18" fill="#000"/>
<rect x="153" y="409" width="3" height="16" fill="#fff"/>
<rect x="162" y="382" width="1" height="104" fill="#000"/>
<rect x="160" y="437" width="5" height="49" fill="#000"/>
<rect x="170" y="459" width="1" height="105" fill="#000"/>
<rect x="168" y="485" width="5" height="13" fill="#000"/>
<rect x="178" y="402" width="1" height="80" fill="#000"/>
<rect x="176" y="404" width="5" height="78" fill="#000"/>
<rect x="177" y="405" width="3" height="76" fill="#fff"/>
<rect x="186" y="481" width="1" height="57" fill="#000"/>
<rect x="184" y="523" width="5" height="15" fill="#000"/>
<rect x="185" y="524" width="3" height="13" fill="#fff"/>
<rect x="194" y="425" width="1" height="34" fill="#000"/>
<rect x="192" y="430" width="5" height="17" fill="#000"/>
<rect x="193" y="431" width="3" height="15" fill="#fff"/>
<rect x="202" y="361" width="1" height="48" fill="#000"/>
<rect x="200" y="364" width="5" height="27" fill="#000"/>
<rect x="201" y="365" width="3" height="25" fill="#fff"/>
<rect x="210" y="367" width="1" height="36" fill="#000"/>
<rect x="208" y="375" width="5" height="22" fill="#000"/>
<rect x="218" y="345" width="1" height="42" fill="#000"/>
<rect x="216" y="345" width="5" height="28" fill="#000"/>
<rect x="226" y="370" width="1" height="59" fill="#000"/>
<rect x="224" y="409" width="5" height="20" fill="#000"/>
<rect x="225" y="410" width="3" height="18" fill="#fff"/>
<rect x="234" y="352" width="1" height="42" fill="#000"/>
<rect x="232" y="356" width="5" height="14" fill="#000"/>
<rect x="233" y="357" width="3" height="12" fill="#fff"/>
<rect x="242" y="367" width="1" height="52" fill="#000"/>
<rect x="240" y="383" width="5" height="32" fill="#000"/>
<rect x="250" y="388" width="1" height="50" fill="#000"/>
<rect x="248" y="389" width="5" height="47" fill="#000"/>
<rect x="249" y="390" width="3" height="45" fill="#fff"/>
<rect x="258" y="391" width="1" height="19" fill="#000"/>
<rect x="256" y="395" width="5" height="11" fill="#000"/>
<rect x="257" y="396" width="3" height="9" fill="#fff"/>
<rect x="266" y="344" width="1" height="45" fill="#000"/>
<rect x="264" y="353" width="5" height="2" fill="#000"/>
<rect x="274" y="300" width="1" height="53" fill="#000"/>
<rect x="272" y="302" width="5" height="30" fill="#000"/>
<rect x="273" y="303" width="3" height="28" fill="#fff"/>
<rect x="282" y="317" width="1" height="35" fill="#000"/>
<rect x="280" y="329" width="5" height="23" fill="#000"/>
<rect x="290" y="307" width="1" height="26" fill="#000"/>
<rect x="288" y="317" width="5" height="2" fill="#000"/>
<rect x="298" y="288" width="1" height="28" fill="#000"/>
<rect x="296" y="303" width="5" height="10" fill="#000"/>
<rect x="297" y="304" width="3" height="8" fill="#fff"/>
<rect x="306" y="287" width="1" height="45" fill="#000"/>
<rect x="304" y="302" width="5" height="29" fill="#000"/>
<rect x="314" y="324" width="1" height="23" fill="#000"/>
<rect x="312" y="337" width="5" height="3" fill="#000"/>
<rect x="313" y="338" width="3" height="1" fill="#fff"/>
<rect x="322" y="281" width="1" height="33" fill="#000"/>
<rect x="320" y="295" width="5" height="13" fill="#000"/>
<rect x="330" y="297" width="1" height="24" fill="#000"/>
<rect x="328" y="310" width="5" height="3" fill="#000"/>
<rect x="338" y="315" width="1" height="47" fill="#000"/>
<rect x="336" y="321" width="5" height="34" fill="#000"/>
<rect x="346" y="339" width="1" height="38" fill="#000"/>
<rect x="344" y="343" width="5" height="30" fill="#000"/>
<rect x="345" y="344" width="3" height="28" fill="#fff"/>
<rect x="354" y="326" width="1" height="26" fill="#000"/>
<rect x="352" y="334" width="5" height="6" fill="#000"/>
<rect x="353" y="335" width="3" height="4" fill="#fff"/>
<rect x="362" y="347" width="1" height="20" fill="#000"/>
<rect x="360" y="354" width="5" height="2" fill="#000"/>
<rect x="370" y="316" width="1" height="26" fill="#000"/>
<rect x="368" y="319" width="5" height="22" fill="#000"/>
<rect x="369" y="320" width="3" height="20" fill="#fff"/>
<rect x="378" y="289" width="1" height="41" fill="#000"/>
<rect x="376" y="289" width="5" height="22" fill="#000"/>
<rect x="377" y="290" width="3" height="20" fill="#fff"/>
<rect x="386" y="275" width="1" height="26" fill="#000"/>
<rect x="384" y="288" width="5" height="8" fill="#000"/>
<rect x="394" y="354" width="1" height="33" fill="#000"/>
<rect x="392" y="357" width="5" height="25" fill="#000"/>
<rect x="402" y="349" width="1" height="21" fill="#000"/>
<rect x="400" y="351" width="5" height="14" fill="#000"/>
<rect x="401" y="352" width="3" height="12" fill="#fff"/>
<rect x="410" y="323" width="1" height="40" fill="#000"/>
<rect x="408" y="329" width="5" height="33" fill="#000"/>
<rect x="409" y="330" width="3" height="31" fill="#fff"/>
<rect x="418" y="336" width="1" height="16" fill="#000"/>
<rect x="416" y="340" width="5" height="5" fill="#000"/>
<rect x="426" y="319" width="1" height="15" fill="#000"/>
<rect x="424" y="325" width="5" height="3" fill="#000"/>
<rect x="425" y="326" width="3" height="1" fill="#fff"/>
<rect x="434" y="280" width="1" height="31" fill="#000"/>
<rect x="432" y="296" width="5" height="13" fill="#000"/>
<rect x="433" y="297" width="3" height="11" fill="#fff"/>
<rect x="442" y="309" width="1" height="25" fill="#000"/>
<rect x="440" y="316" width="5" height="7" fill="#000"/>
<rect x="450" y="315" width="1" height="29" fill="#000"/>
<rect x="448" y="328" width="5" height="11" fill="#000"/>
<rect x="449" y="329" width="3" height="9" fill="#fff"/>
<rect x="458" y="336" width="1" height="26" fill="#000"/>
<rect x="456" y="338" width="5" height="20" fill="#000"/>
<rect x="466" y="340" width="1" height="29" fill="#000"/>
<rect x="464" y="350" width="5" height="9" fill="#000"/>
<rect x="474" y="338" width="1" height="26" fill="#000"/>
<rect x="472" y="339" width="5" height="25" fill="#000"/>
<rect x="473" y="340" width="3" height="23" fill="#fff"/>
<rect x="482" y="293" width="1" height="23" fill="#000"/>
<rect x="480" y="307" width="5" height="3" fill="#000"/>
<rect x="481" y="308" width="3" height="1" fill="#fff"/>
<rect x="490" y="297" width="1" height="17" fill="#000"/>
<rect x="488" y="301" width="5" height="8" fill="#000"/>
<rect x="489" y="302" width="3" height="6" fill="#fff"/>
<rect x="498" y="297" width="1" height="29" fill="#000"/>
<rect x="496" y="304" width="5" height="21" fill="#000"/>
<rect x="506" y="356" width="1" height="77" fill="#000"/>
<rect x="504" y="356" width="5" height="77" fill="#000"/>
<rect x="514" y="414" width="1" height="33" fill="#000"/>
<rect x="512" y="418" width="5" height="7" fill="#000"/>
<rect x="513" y="419" width="3" height="5" fill="#fff"/>
<rect x="522" y="373" width="1" height="26" fill="#000"/>
<rect x="520" y="383" width="5" height="16" fill="#000"/>
<rect x="521" y="384" width="3" height="14" fill="#fff"/>
<rect x="530" y="386" width="1" height="32" fill="#000"/>
<rect x="528" y="394" width="5" height="16" fill="#000"/>
<rect x="538" y="391" width="1" height="54" fill="#000"/>
<rect x="536" y="414" width="5" height="4" fill="#000"/>
<rect x="546" y="418" width="1" height="37" fill="#000"/>
<rect x="544" y="428" width="5" height="9" fill="#000"/>
<rect x="545" y="429" width="3" height="7" fill="#fff"/>
<rect x="554" y="359" width="1" height="38" fill="#000"/>
<rect x="552" y="378" width="5" height="19" fill="#000"/>
<rect x="553" y="379" width="3" height="17" fill="#fff"/>
<rect x="562" y="337" width="1" height="34" fill="#000"/>
<rect x="560" y="338" width="5" height="25" fill="#000"/>
<rect x="561" y="339" width="3" height="23" fill="#fff"/>
<rect x="570" y="306" width="1" height="22" fill="#000"/>
<rect x="568" y="306" width="5" height="10" fill="#000"/>
<rect x="578" y="290" width="1" height="35" fill="#000"/>
<rect x="576" y="292" width="5" height="20" fill="#000"/>
<rect x="586" y="274" width="1" height="47" fill="#000"/>
<rect x="584" y="280" width="5" height="34" fill="#000"/>
<rect x="585" y="281" width="3" height="32" fill="#fff"/>
<rect x="594" y="259" width="1" height="29" fill="#000"/>
<rect x="592" y="262" width="5" height="16" fill="#000"/>
<rect x="602" y="245" width="1" height="34" fill="#000"/>
<rect x="600" y="268" width="5" height="6" fill="#000"/>
<rect x="601" y="269" width="3" height="4" fill="#fff"/>
<rect x="610" y="238" width="1" height="29" fill="#000"/>
<rect x="608" y="256" width="5" height="2" fill="#000"/>
<rect x="618" y="257" width="1" height="52" fill="#000"/>
<rect x="616" y="265" width="5" height="42" fill="#000"/>
<rect x="626" y="316" width="1" height="34" fill="#000"/>
<rect x="624" y="317" width="5" height="25" fill="#000"/>
<rect x="625" y="318" width="3" height="23" fill="#fff"/>
<rect x="634" y="322" width="1" height="46" fill="#000"/>
<rect x="632" y="342" width="5" height="15" fill="#000"/>
<rect x="642" y="297" width="1" height="21" fill="#000"/>
<rect x="640" y="306" width="5" height="1" fill="#000"/>
<rect x="650" y="297" width="1" height="31" fill="#000"/>
<rect x="648" y="303" width="5" height="6" fill="#000"/>
<rect x="649" y="304" width="3" height="4" fill="#fff"/>
<rect x="658" y="301" width="1" height="32" fill="#000"/>
<rect x="656" y="309" width="5" height="5" fill="#000"/>
<rect x="657" y="310" width="3" height="3" fill="#fff"/>
<rect x="666" y="278" width="1" height="39" fill="#000"/>
<rect x="664" y="287" width="5" height="24" fill="#000"/>
<rect x="665" y="288" width="3" height="22" fill="#fff"/>
<rect x="674" y="286" width="1" height="20" fill="#000"/>
<rect x="672" y="299" width="5" height="7" fill="#000"/>
<rect x="673" y="300" width="3" height="5" fill="#fff"/>
<rect x="682" y="259" width="1" height="65" fill="#000"/>
<rect x="680" y="262" width="5" height="23" fill="#000"/>
<rect x="681" y="263" width="3" height="21" fill="#fff"/>
<rect x="690" y="261" width="1" height="38" fill="#000"/>
<rect x="688" y="266" width="5" height="29" fill="#000"/>
<rect x="698" y="289" width="1" height="23" fill="#000"/>
<rect x="696" y="308" width="5" height="4" fill="#000"/>
<rect x="697" y="309" width="3" height="2" fill="#fff"/>
<rect x="706" y="301" width="1" height="39" fill="#000"/>
<rect x="704" y="314" width="5" height="17" fill="#000"/>
<rect x="714" y="303" width="1" height="27" fill="#000"/>
<rect x="712" y="306" width="5" height="10" fill="#000"/>
<rect x="722" y="247" width="1" height="59" fill="#000"/>
<rect x="720" y="247" width="5" height="51" fill="#000"/>
<rect x="721" y="248" width="3" height="49" fill="#fff"/>
<rect x="730" y="226" width="1" height="26" fill="#000"/>
<rect x="728" y="235" width="5" height="17" fill="#000"/>
<rect x="729" y="236" width="3" height="15" fill="#fff"/>
<rect x="738" y="148" width="1" height="73" fill="#000"/>
<rect x="736" y="156" width="5" height="64" fill="#000"/>
<rect x="737" y="157" width="3" height="62" fill="#fff"/>
<rect x="746" y="121" width="1" height="66" fill="#000"/>
<rect x="744" y="134" width="5" height="51" fill="#000"/>
<rect x="754" y="156" width="1" height="36" fill="#000"/>
<rect x="752" y="173" width="5" height="5" fill="#000"/>
<rect x="762" y="152" width="1" height="30" fill="#000"/>
<rect x="760" y="160" width="5" height="4" fill="#000"/>
<rect x="770" y="169" width="1" height="48" fill="#000"/>
<rect x="768" y="180" width="5" height="26" fill="#000"/>
<rect x="778" y="173" width="1" height="31" fill="#000"/>
<rect x="776" y="194" width="5" height="8" fill="#000"/>
<rect x="786" y="206" width="1" height="33" fill="#000"/>
<rect x="784" y="208" width="5" height="10" fill="#000"/>
<rect x="794" y="189" width="1" height="46" fill="#000"/>
<rect x="792" y="199" width="5" height="22" fill="#000"/>
<rect x="802" y="210" width="1" height="57" fill="#000"/>
<rect x="800" y="214" width="5" height="51" fill="#000"/>
<rect x="810" y="238" width="1" height="20" fill="#000"/>
<rect x="808" y="245" width="5" height="2" fill="#000"/>
<rect x="818" y="242" width="1" height="37" fill="#000"/>
<rect x="816" y="256" width="5" height="2" fill="#000"/>
<rect x="826" y="209" width="1" height="24" fill="#000"/>
<rect x="824" y="211" width="5" height="18" fill="#000"/>
<rect x="825" y="212" width="3" height="16" fill="#fff"/>
<rect x="834" y="198" width="1" height="61" fill="#000"/>
<rect x="832" y="217" width="5" height="33" fill="#000"/>
<rect x="842" y="233" width="1" height="28" fill="#000"/>
<rect x="840" y="239" width="5" height="9" fill="#000"/>
<rect x="841" y="240" width="3" height="7" fill="#fff"/>
<rect x="850" y="249" width="1" height="42" fill="#000"/>
<rect x="848" y="257" width="5" height="25" fill="#000"/>
<rect x="858" y="260" width="1" height="33" fill="#000"/>
<rect x="856" y="264" width="5" height="22" fill="#000"/>
<rect x="866" y="258" width="1" height="27" fill="#000"/>
<rect x="864" y="262" width="5" height="15" fill="#000"/>
<rect x="874" y="266" width="1" height="20" fill="#000"/>
<rect x="872" y="268" width="5" height="13" fill="#000"/>
<rect x="873" y="269" width="3" height="11" fill="#fff"/>
<rect x="882" y="243" width="1" height="50" fill="#000"/>
<rect x="880" y="264" width="5" height="22" fill="#000"/>
<rect x="890" y="263" width="1" height="35" fill="#000"/>
<rect x="888" y="278" width="5" height="14" fill="#000"/>
<rect x="898" y="288" width="1" height="32" fill="#000"/>
<rect x="896" y="290" width="5" height="15" fill="#000"/>
<rect x="906" y="252" width="1" height="45" fill="#000"/>
<rect x="904" y="263" width="5" height="24" fill="#000"/>
<rect x="905" y="264" width="3" height="22" fill="#fff"/>
<rect x="914" y="245" width="1" height="25" fill="#000"/>
<rect x="912" y="254" width="5" height="9" fill="#000"/>
<rect x="913" y="255" width="3" height="7" fill="#fff"/>
<rect x="922" y="240" width="1" height="49" fill="#000"/>
<rect x="920" y="249" width="5" height="23" fill="#000"/>
<rect x="930" y="263" width="1" height="60" fill="#000"/>
<rect x="928" y="266" width="5" height="38" fill="#000"/>
<rect x="938" y="295" width="1" height="24" fill="#000"/>
<rect x="936" y="302" width="5" height="17" fill="#000"/>
<rect x="937" y="303" width="3" height="15" fill="#fff"/>
<rect x="946" y="255" width="1" height="38" fill="#000"/>
<rect x="944" y="265" width="5" height="27" fill="#000"/>
<rect x="945" y="266" width="3" height="25" fill="#fff"/>
<rect x="954" y="235" width="1" height="50" fill="#000"/>
<rect x="952" y="239" width="5" height="35" fill="#000"/>
<rect x="953" y="240" width="3" height="33" fill="#fff"/>
<rect x="962" y="223" width="1" height="28" fill="#000"/>
<rect x="960" y="228" width="5" height="20" fill="#000"/>
<rect x="970" y="230" width="1" height="26" fill="#000"/>
<rect x="968" y="248" width="5" height="5" fill="#000"/>
<rect x="978" y="214" width="1" height="33" fill="#000"/>
<rect x="976" y="237" width="5" height="7" fill="#000"/>
<rect x="977" y="238" width="3" height="5" fill="#fff"/>
<rect x="986" y="224" width="1" height="18" fill="#000"/>
<rect x="984" y="229" width="5" height="4" fill="#000"/>
<rect x="994" y="231" width="1" height="24" fill="#000"/>
<rect x="992" y="241" width="5" height="7" fill="#000"/>
<rect x="1002" y="258" width="1" height="35" fill="#000"/>
<rect x="1000" y="258" width="5" height="25" fill="#000"/>
<rect x="1010" y="243" width="1" height="28" fill="#000"/>
<rect x="1008" y="253" width="5" height="12" fill="#000"/>
<rect x="1009" y="254" width="3" height="10" fill="#fff"/>
<rect x="1018" y="216" width="1" height="27" fill="#000"/>
<rect x="1016" y="219" width="5" height="24" fill="#000"/>
<rect x="1017" y="220" width="3" height="22" fill="#fff"/>
<rect x="1026" y="211" width="1" height="22" fill="#000"/>
<rect x="1024" y="214" width="5" height="10" fill="#000"/>
<rect x="1034" y="212" width="1" height="23" fill="#000"/>
<rect x="1032" y="217" width="5" height="8" fill="#000"/>
<rect x="1042" y="224" width="1" height="29" fill="#000"/>
<rect x="1040" y="224" width="5" height="24" fill="#000"/>
<rect x="1050" y="203" width="1" height="46" fill="#000"/>
<rect x="1048" y="230" width="5" height="16" fill="#000"/>
<rect x="1049" y="231" width="3" height="14" fill="#fff"/>
<rect x="1058" y="198" width="1" height="62" fill="#000"/>
<rect x="1056" y="214" width="5" height="38" fill="#000"/>
<rect x="1066" y="242" width="1" height="27" fill="#000"/>
<rect x="1064" y="252" width="5" height="3" fill="#000"/>
<rect x="1065" y="253" width="3" height="1" fill="#fff"/>
<rect x="1074" y="243" width="1" height="29" fill="#000"/>
<rect x="1072" y="252" width="5" height="2" fill="#000"/>
<rect x="1082" y="244" width="1" height="31" fill="#000"/>
<rect x="1080" y="259" width="5" height="5" fill="#000"/>
<rect x="1090" y="273" width="1" height="29" fill="#000"/>
<rect x="1088" y="282" width="5" height="2" fill="#000"/>
<rect x="1098" y="267" width="1" height="35" fill="#000"/>
<rect x="1096" y="282" width="5" height="13" fill="#000"/>
<rect x="1106" y="275" width="1" height="38" fill="#000"/>
<rect x="1104" y="283" width="5" height="15" fill="#000"/>
<rect x="1114" y="298" width="1" height="25" fill="#000"/>
<rect x="1112" y="302" width="5" height="14" fill="#000"/>
<rect x="1113" y="303" width="3" height="12" fill="#fff"/>
<rect x="1122" y="289" width="1" height="29" fill="#000"/>
<rect x="1120" y="289" width="5" height="28" fill="#000"/>
<rect x="1130" y="293" width="1" height="24" fill="#000"/>
<rect x="1128" y="299" width="5" height="13" fill="#000"/>
<rect x="1129" y="300" width="3" height="11" fill="#fff"/>
<rect x="1138" y="278" width="1" height="20" fill="#000"/>
<rect x="1136" y="290" width="5" height="3" fill="#000"/>
<rect x="1146" y="274" width="1" height="28" fill="#000"/>
<rect x="1144" y="277" width="5" height="20" fill="#000"/>
<rect x="1145" y="278" width="3" height="18" fill="#fff"/>
<rect x="1154" y="269" width="1" height="20" fill="#000"/>
<rect x="1152" y="274" width="5" height="6" fill="#000"/>
<rect x="1162" y="281" width="1" height="38" fill="#000"/>
<rect x="1160" y="292" width="5" height="17" fill="#000"/>
<rect x="1170" y="298" width="1" height="16" fill="#000"/>
<rect x="1168" y="299" width="5" height="8" fill="#000"/>
<rect x="1169" y="300" width="3" height="6" fill="#fff"/>
<rect x="1178" y="289" width="1" height="56" fill="#000"/>
<rect x="1176" y="303" width="5" height="39" fill="#000"/>
<rect x="1186" y="342" width="1" height="21" fill="#000"/>
<rect x="1184" y="342" width="5" height="19" fill="#000"/>
<rect x="1194" y="352" width="1" height="19" fill="#000"/>
<rect x="1192" y="357" width="5" height="3" fill="#000"/>
<rect x="1193" y="358" width="3" height="1" fill="#fff"/>
<rect x="1202" y="366" width="1" height="32" fill="#000"/>
<rect x="1200" y="373" width="5" height="18" fill="#000"/>
<rect x="1210" y="374" width="1" height="29" fill="#000"/>
<rect x="1208" y="377" width="5" height="22" fill="#000"/>
<rect x="1218" y="374" width="1" height="21" fill="#000"/>
<rect x="1216" y="379" width="5" height="15" fill="#000"/>
<rect x="1217" y="380" width="3" height="13" fill="#fff"/>
<rect x="1226" y="365" width="1" height="30" fill="#000"/>
<rect x="1224" y="365" width="5" height="25" fill="#000"/>
<rect x="1234" y="350" width="1" height="35" fill="#000"/>
<rect x="1232" y="376" width="5" height="2" fill="#000"/>
<rect x="1242" y="337" width="1" height="26" fill="#000"/>
<rect x="1240" y="340" width="5" height="13" fill="#000"/>
<rect x="1250" y="335" width="1" height="14" fill="#000"/>
<rect x="1248" y="338" width="5" height="6" fill="#000"/>
<rect x="1249" y="339" width="3" height="4" fill="#fff"/>
<rect x="1258" y="313" width="1" height="30" fill="#000"/>
<rect x="1256" y="321" width="5" height="21" fill="#000"/>
<rect x="1257" y="322" width="3" height="19" fill="#fff"/>
<rect x="1266" y="318" width="1" height="17" fill="#000"/>
<rect x="1264" y="318" width="5" height="9" fill="#000"/>
<rect x="1274" y="305" width="1" height="28" fill="#000"/>
<rect x="1272" y="313" width="5" height="19" fill="#000"/>
<rect x="1282" y="279" width="1" height="43" fill="#000"/>
<rect x="1280" y="283" width="5" height="38" fill="#000"/>
<rect x="1281" y="284" width="3" height="36" fill="#fff"/>
<rect x="1290" y="281" width="1" height="1" fill="#000"/>
<rect x="1288" y="281" width="5" height="1" fill="#000"/>
<rect x="1298" y="273" width="1" height="25" fill="#000"/>
<rect x="1296" y="273" width="5" height="15" fill="#000"/>
<rect x="1306" y="291" width="1" height="39" fill="#000"/>
<rect x="1304" y="299" width="5" height="29" fill="#000"/>
<rect x="1314" y="300" width="1" height="21" fill="#000"/>
<rect x="1312" y="308" width="5" height="6" fill="#000"/>
<rect x="1313" y="309" width="3" height="4" fill="#fff"/>
<rect x="1322" y="276" width="1" height="26" fill="#000"/>
<rect x="1320" y="293" width="5" height="4" fill="#000"/>
<rect x="1321" y="294" width="3" height="2" fill="#fff"/>
<rect x="1330" y="289" width="1" height="14" fill="#000"/>
<rect x="1328" y="295" width="5" height="2" fill="#000"/>
<rect x="1338" y="266" width="1" height="24" fill="#000"/>
<rect x="1336" y="285" width="5" height="5" fill="#000"/>
<rect x="1337" y="286" width="3" height="3" fill="#fff"/>
<rect x="1346" y="267" width="1" height="28" fill="#000"/>
<rect x="1344" y="268" width="5" height="20" fill="#000"/>
<rect x="1345" y="269" width="3" height="18" fill="#fff"/>
<rect x="1354" y="260" width="1" height="24" fill="#000"/>
<rect x="1352" y="264" width="5" height="11" fill="#000"/>
<rect x="1353" y="265" width="3" height="9" fill="#fff"/>
<rect x="1362" y="270" width="1" height="21" fill="#000"/>
<rect x="1360" y="277" width="5" height="3" fill="#000"/>
<rect x="1370" y="274" width="1" height="20" fill="#000"/>
<rect x="1368" y="280" width="5" height="11" fill="#000"/>
<rect x="1378" y="287" width="1" height="31" fill="#000"/>
<rect x="1376" y="296" width="5" height="11" fill="#000"/>
<rect x="1377" y="297" width="3" height="9" fill="#fff"/>
<rect x="1386" y="293" width="1" height="45" fill="#000"/>
<rect x="1384" y="307" width="5" height="15" fill="#000"/>
<rect x="1394" y="301" width="1" height="22" fill="#000"/>
<rect x="1392" y="309" width="5" height="13" fill="#000"/>
<rect x="1393" y="310" width="3" height="11" fill="#fff"/>
<rect x="1402" y="255" width="1" height="33" fill="#000"/>
<rect x="1400" y="257" width="5" height="31" fill="#000"/>
<rect x="1401" y="258" width="3" height="29" fill="#fff"/>
<rect x="1410" y="254" width="1" height="33" fill="#000"/>
<rect x="1408" y="263" width="5" height="13" fill="#000"/>
<rect x="1409" y="264" width="3" height="11" fill="#fff"/>
<rect x="1418" y="195" width="1" height="41" fill="#000"/>
<rect x="1416" y="196" width="5" height="28" fill="#000"/>
<rect x="1417" y="197" width="3" height="26" fill="#fff"/>
<rect x="1426" y="196" width="1" height="21" fill="#000"/>
<rect x="1424" y="196" width="5" height="7" fill="#000"/>
<rect x="1434" y="171" width="1" height="9" fill="#000"/>
<rect x="1432" y="171" width="5" height="9" fill="#000"/>
<rect x="1442" y="148" width="1" height="29" fill="#000"/>
<rect x="1440" y="152" width="5" height="16" fill="#000"/>
<rect x="1450" y="148" width="1" height="20" fill="#000"/>
<rect x="1448" y="162" width="5" height="1" fill="#000"/>
</g>
<rect x="1370" y="164" width="120" height="7" fill="#00ff00"/>
<text x="1459.3 1481.05 1502.8 1524.55 1546.3" y="201.6" font-size="20.3" fill="#00ff00" font-family="Liberation Sans, Noto Sans CJK SC, sans-serif" font-weight="300">多空转折点</text>
<rect x="675.5" y="113.5" width="61" height="18" fill="#fff" stroke="#ff0000" stroke-width="1"/>
<text x="677.1" y="129" font-size="16.7" fill="#ff0000" textLength="58.8" lengthAdjust="spacingAndGlyphs" >26779.3</text>
<rect x="531.5" y="227.5" width="61" height="18" fill="#fff" stroke="#ff0000" stroke-width="1"/>
<text x="533.1" y="243" font-size="16.7" fill="#ff0000" textLength="58.8" lengthAdjust="spacingAndGlyphs" >25270.2</text>
<rect x="593" y="236" width="10" height="1" fill="#ff0000"/>
<rect x="1069.5" y="188.5" width="60" height="18" fill="#fff" stroke="#ff0000" stroke-width="1"/>
<text x="1071.1" y="204" font-size="16.7" fill="#ff0000" textLength="57.8" lengthAdjust="spacingAndGlyphs" >25785.8</text>
<rect x="1059" y="197" width="10" height="1" fill="#ff0000"/>
<rect x="1139.5" y="391.5" width="61" height="18" fill="#fff" stroke="#ff0000" stroke-width="1"/>
<text x="1141.1" y="407" font-size="16.7" fill="#ff0000" textLength="58.8" lengthAdjust="spacingAndGlyphs" >23117.2</text>
<rect x="1201" y="400" width="9" height="1" fill="#ff0000"/>
<rect x="1315.5" y="327.5" width="61" height="18" fill="#fff" stroke="#ff0000" stroke-width="1"/>
<text x="1317.1" y="343" font-size="16.7" fill="#ff0000" textLength="58.8" lengthAdjust="spacingAndGlyphs" >23953.1</text>
<rect x="1377" y="336" width="10" height="1" fill="#ff0000"/>
<rect x="1235" y="168" width="10" height="1" fill="#ff0000"/>
<rect x="1245.5" y="156.5" width="73" height="24" fill="#fff" stroke="#ff0000" stroke-width="1"/>
<text x="1246.1" y="177.2" font-size="22.3" fill="#ff0000" textLength="71.8" lengthAdjust="spacingAndGlyphs" >26175.6</text>
<polygon points="1379.8,334.7 1446.1,156.6 1449.0,157.7 1448.2,145.6 1439.7,154.2 1442.6,155.2 1376.2,333.3" fill="#ff0000"/>
<rect x="0" y="24" width="1685" height="1" fill="#000"/>
<rect x="0" y="577" width="1685" height="1" fill="#000"/>
<rect x="0" y="579" width="1685" height="1" fill="#000"/>
<rect x="0" y="749" width="1685" height="1" fill="#000"/>
<rect x="0" y="751" width="1685" height="1" fill="#000"/>
<rect x="0" y="925" width="1685" height="1" fill="#000"/>
<rect x="1684" y="24" width="1" height="902" fill="#000"/>
<polygon points="1458,25 1470,25 1464,31" fill="#a9a9a9" shape-rendering="geometricPrecision"/>
<rect x="1685" y="46" width="2" height="1" fill="#000"/>
<text x="1690" y="50.1" font-size="9.6" fill="#000" textLength="33.1" lengthAdjust="spacingAndGlyphs" stroke="#000" stroke-width="0.15" >27773.0</text>
<rect x="1685" y="79" width="2" height="1" fill="#000"/>
<text x="1690" y="83.1" font-size="9.6" fill="#000" textLength="33.1" lengthAdjust="spacingAndGlyphs" stroke="#000" stroke-width="0.15" >27344.0</text>
<rect x="1685" y="112" width="2" height="1" fill="#000"/>
<text x="1690" y="116.1" font-size="9.6" fill="#000" textLength="33.1" lengthAdjust="spacingAndGlyphs" stroke="#000" stroke-width="0.15" >26902.0</text>
<rect x="1685" y="145" width="2" height="1" fill="#000"/>
<text x="1690" y="149.1" font-size="9.6" fill="#000" textLength="33.1" lengthAdjust="spacingAndGlyphs" stroke="#000" stroke-width="0.15" >26473.0</text>
<rect x="1685" y="178" width="2" height="1" fill="#000"/>
<text x="1690" y="182.1" font-size="9.6" fill="#000" textLength="33.1" lengthAdjust="spacingAndGlyphs" stroke="#000" stroke-width="0.15" >26044.0</text>
<rect x="1685" y="211" width="2" height="1" fill="#000"/>
<text x="1690" y="215.1" font-size="9.6" fill="#000" textLength="33.1" lengthAdjust="spacingAndGlyphs" stroke="#000" stroke-width="0.15" >25602.0</text>
<rect x="1685" y="244" width="2" height="1" fill="#000"/>
<text x="1690" y="248.1" font-size="9.6" fill="#000" textLength="33.1" lengthAdjust="spacingAndGlyphs" stroke="#000" stroke-width="0.15" >25173.0</text>
<rect x="1685" y="277" width="2" height="1" fill="#000"/>
<text x="1690" y="281.1" font-size="9.6" fill="#000" textLength="33.1" lengthAdjust="spacingAndGlyphs" stroke="#000" stroke-width="0.15" >24731.0</text>
<rect x="1685" y="310" width="2" height="1" fill="#000"/>
<text x="1690" y="314.1" font-size="9.6" fill="#000" textLength="33.1" lengthAdjust="spacingAndGlyphs" stroke="#000" stroke-width="0.15" >24302.0</text>
<rect x="1685" y="343" width="2" height="1" fill="#000"/>
<text x="1690" y="347.1" font-size="9.6" fill="#000" textLength="33.1" lengthAdjust="spacingAndGlyphs" stroke="#000" stroke-width="0.15" >23860.0</text>
<rect x="1685" y="376" width="2" height="1" fill="#000"/>
<text x="1690" y="380.1" font-size="9.6" fill="#000" textLength="33.1" lengthAdjust="spacingAndGlyphs" stroke="#000" stroke-width="0.15" >23431.0</text>
<rect x="1685" y="409" width="2" height="1" fill="#000"/>
<text x="1690" y="413.1" font-size="9.6" fill="#000" textLength="33.1" lengthAdjust="spacingAndGlyphs" stroke="#000" stroke-width="0.15" >23002.0</text>
<rect x="1685" y="442" width="2" height="1" fill="#000"/>
<text x="1690" y="446.1" font-size="9.6" fill="#000" textLength="33.1" lengthAdjust="spacingAndGlyphs" stroke="#000" stroke-width="0.15" >22560.0</text>
<rect x="1685" y="475" width="2" height="1" fill="#000"/>
<text x="1690" y="479.1" font-size="9.6" fill="#000" textLength="33.1" lengthAdjust="spacingAndGlyphs" stroke="#000" stroke-width="0.15" >22131.0</text>
<rect x="1685" y="508" width="2" height="1" fill="#000"/>
<text x="1690" y="512.1" font-size="9.6" fill="#000" textLength="33.1" lengthAdjust="spacingAndGlyphs" stroke="#000" stroke-width="0.15" >21689.0</text>
<rect x="1685" y="541" width="2" height="1" fill="#000"/>
<text x="1690" y="545.1" font-size="9.6" fill="#000" textLength="33.1" lengthAdjust="spacingAndGlyphs" stroke="#000" stroke-width="0.15" >21260.0</text>
<rect x="1685" y="574" width="2" height="1" fill="#000"/>
<text x="1690" y="578.1" font-size="9.6" fill="#000" textLength="33.1" lengthAdjust="spacingAndGlyphs" stroke="#000" stroke-width="0.15" >20831.0</text>
<rect x="1686" y="116" width="41" height="11" fill="#ff0000"/>
<text x="1690" y="125.1" font-size="9.6" fill="#fff" textLength="33.1" lengthAdjust="spacingAndGlyphs" >26779.3</text>
<rect x="1686" y="131" width="41" height="11" fill="#ff0000"/>
<text x="1690" y="140.1" font-size="9.6" fill="#fff" textLength="33.1" lengthAdjust="spacingAndGlyphs" >26573.5</text>
<rect x="1686" y="157" width="41" height="10" fill="#000000"/>
<text x="1690" y="165.1" font-size="9.6" fill="#fff" textLength="33.1" lengthAdjust="spacingAndGlyphs" >26251.0</text>
<rect x="1686" y="162" width="41" height="11" fill="#32cd32"/>
<text x="1690" y="171.1" font-size="9.6" fill="#fff" textLength="33.1" lengthAdjust="spacingAndGlyphs" >26175.6</text>
<rect x="1686" y="178" width="41" height="11" fill="#0000ff"/>
<text x="1690" y="187.1" font-size="9.6" fill="#fff" textLength="33.1" lengthAdjust="spacingAndGlyphs" >25956.1</text>
<rect x="1686" y="195" width="41" height="11" fill="#0000ff"/>
<text x="1690" y="204.1" font-size="9.6" fill="#fff" textLength="33.1" lengthAdjust="spacingAndGlyphs" >25736.6</text>
<polygon points="0,31 0,36 4,36" fill="#000" shape-rendering="geometricPrecision"/>
<text x="9.5" y="36.3" font-size="9.6" fill="#000" textLength="197.5" lengthAdjust="spacingAndGlyphs" stroke="#000" stroke-width="0.15" >HK50-,Daily  26247.0 26437.5 26173.0 26251.0</text>
<g id="macd">
<rect x="2" y="630" width="1" height="4" fill="#c0c0c0"/>
<rect x="10" y="630" width="1" height="4" fill="#c0c0c0"/>
<rect x="18" y="630" width="1" height="6" fill="#c0c0c0"/>
<rect x="26" y="630" width="1" height="10" fill="#c0c0c0"/>
<rect x="34" y="630" width="1" height="14" fill="#c0c0c0"/>
<rect x="42" y="630" width="1" height="17" fill="#c0c0c0"/>
<rect x="50" y="630" width="1" height="20" fill="#c0c0c0"/>
<rect x="58" y="630" width="1" height="24" fill="#c0c0c0"/>
<rect x="66" y="630" width="1" height="27" fill="#c0c0c0"/>
<rect x="74" y="630" width="1" height="28" fill="#c0c0c0"/>
<rect x="82" y="630" width="1" height="30" fill="#c0c0c0"/>
<rect x="90" y="630" width="1" height="28" fill="#c0c0c0"/>
<rect x="98" y="630" width="1" height="29" fill="#c0c0c0"/>
<rect x="106" y="630" width="1" height="39" fill="#c0c0c0"/>
<rect x="114" y="630" width="1" height="42" fill="#c0c0c0"/>
<rect x="122" y="630" width="1" height="46" fill="#c0c0c0"/>
<rect x="130" y="630" width="1" height="55" fill="#c0c0c0"/>
<rect x="138" y="630" width="1" height="63" fill="#c0c0c0"/>
<rect x="146" y="630" width="1" height="77" fill="#c0c0c0"/>
<rect x="154" y="630" width="1" height="84" fill="#c0c0c0"/>
<rect x="162" y="630" width="1" height="96" fill="#c0c0c0"/>
<rect x="170" y="630" width="1" height="105" fill="#c0c0c0"/>
<rect x="178" y="630" width="1" height="103" fill="#c0c0c0"/>
<rect x="186" y="630" width="1" height="111" fill="#c0c0c0"/>
<rect x="194" y="630" width="1" height="107" fill="#c0c0c0"/>
<rect x="202" y="630" width="1" height="98" fill="#c0c0c0"/>
<rect x="210" y="630" width="1" height="92" fill="#c0c0c0"/>
<rect x="218" y="630" width="1" height="84" fill="#c0c0c0"/>
<rect x="226" y="630" width="1" height="80" fill="#c0c0c0"/>
<rect x="234" y="630" width="1" height="71" fill="#c0c0c0"/>
<rect x="242" y="630" width="1" height="69" fill="#c0c0c0"/>
<rect x="250" y="630" width="1" height="64" fill="#c0c0c0"/>
<rect x="258" y="630" width="1" height="60" fill="#c0c0c0"/>
<rect x="266" y="630" width="1" height="53" fill="#c0c0c0"/>
<rect x="274" y="630" width="1" height="42" fill="#c0c0c0"/>
<rect x="282" y="630" width="1" height="37" fill="#c0c0c0"/>
<rect x="290" y="630" width="1" height="30" fill="#c0c0c0"/>
<rect x="298" y="630" width="1" height="23" fill="#c0c0c0"/>
<rect x="306" y="630" width="1" height="19" fill="#c0c0c0"/>
<rect x="314" y="630" width="1" height="17" fill="#c0c0c0"/>
<rect x="322" y="630" width="1" height="12" fill="#c0c0c0"/>
<rect x="330" y="630" width="1" height="9" fill="#c0c0c0"/>
<rect x="338" y="630" width="1" height="10" fill="#c0c0c0"/>
<rect x="346" y="630" width="1" height="9" fill="#c0c0c0"/>
<rect x="354" y="630" width="1" height="8" fill="#c0c0c0"/>
<rect x="362" y="630" width="1" height="7" fill="#c0c0c0"/>
<rect x="370" y="630" width="1" height="5" fill="#c0c0c0"/>
<rect x="378" y="630" width="1" height="2" fill="#c0c0c0"/>
<rect x="386" y="630" width="1" height="1" fill="#c0c0c0"/>
<rect x="394" y="630" width="1" height="3" fill="#c0c0c0"/>
<rect x="402" y="630" width="1" height="5" fill="#c0c0c0"/>
<rect x="410" y="630" width="1" height="4" fill="#c0c0c0"/>
<rect x="418" y="630" width="1" height="5" fill="#c0c0c0"/>
<rect x="426" y="630" width="1" height="3" fill="#c0c0c0"/>
<rect x="434" y="630" width="1" height="1" fill="#c0c0c0"/>
<rect x="442" y="630" width="1" height="1" fill="#c0c0c0"/>
<rect x="450" y="630" width="1" height="1" fill="#c0c0c0"/>
<rect x="458" y="630" width="1" height="2" fill="#c0c0c0"/>
<rect x="466" y="630" width="1" height="4" fill="#c0c0c0"/>
<rect x="474" y="630" width="1" height="4" fill="#c0c0c0"/>
<rect x="482" y="630" width="1" height="1" fill="#c0c0c0"/>
<rect x="490" y="628" width="1" height="3" fill="#c0c0c0"/>
<rect x="498" y="629" width="1" height="2" fill="#c0c0c0"/>
<rect x="506" y="630" width="1" height="8" fill="#c0c0c0"/>
<rect x="514" y="630" width="1" height="14" fill="#c0c0c0"/>
<rect x="522" y="630" width="1" height="15" fill="#c0c0c0"/>
<rect x="530" y="630" width="1" height="17" fill="#c0c0c0"/>
<rect x="538" y="630" width="1" height="22" fill="#c0c0c0"/>
<rect x="546" y="630" width="1" height="24" fill="#c0c0c0"/>
<rect x="554" y="630" width="1" height="22" fill="#c0c0c0"/>
<rect x="562" y="630" width="1" height="15" fill="#c0c0c0"/>
<rect x="570" y="630" width="1" height="10" fill="#c0c0c0"/>
<rect x="578" y="630" width="1" height="4" fill="#c0c0c0"/>
<rect x="586" y="629" width="1" height="2" fill="#c0c0c0"/>
<rect x="594" y="623" width="1" height="8" fill="#c0c0c0"/>
<rect x="602" y="618" width="1" height="13" fill="#c0c0c0"/>
<rect x="610" y="613" width="1" height="18" fill="#c0c0c0"/>
<rect x="618" y="613" width="1" height="18" fill="#c0c0c0"/>
<rect x="626" y="615" width="1" height="16" fill="#c0c0c0"/>
<rect x="634" y="620" width="1" height="11" fill="#c0c0c0"/>
<rect x="642" y="620" width="1" height="11" fill="#c0c0c0"/>
<rect x="650" y="619" width="1" height="12" fill="#c0c0c0"/>
<rect x="658" y="619" width="1" height="12" fill="#c0c0c0"/>
<rect x="666" y="618" width="1" height="13" fill="#c0c0c0"/>
<rect x="674" y="617" width="1" height="14" fill="#c0c0c0"/>
<rect x="682" y="615" width="1" height="16" fill="#c0c0c0"/>
<rect x="690" y="615" width="1" height="16" fill="#c0c0c0"/>
<rect x="698" y="617" width="1" height="14" fill="#c0c0c0"/>
<rect x="706" y="621" width="1" height="10" fill="#c0c0c0"/>
<rect x="714" y="622" width="1" height="9" fill="#c0c0c0"/>
<rect x="722" y="618" width="1" height="13" fill="#c0c0c0"/>
<rect x="730" y="613" width="1" height="18" fill="#c0c0c0"/>
<rect x="738" y="603" width="1" height="28" fill="#c0c0c0"/>
<rect x="746" y="598" width="1" height="33" fill="#c0c0c0"/>
<rect x="754" y="593" width="1" height="38" fill="#c0c0c0"/>
<rect x="762" y="589" width="1" height="42" fill="#c0c0c0"/>
<rect x="770" y="590" width="1" height="41" fill="#c0c0c0"/>
<rect x="778" y="591" width="1" height="40" fill="#c0c0c0"/>
<rect x="786" y="593" width="1" height="38" fill="#c0c0c0"/>
<rect x="794" y="596" width="1" height="35" fill="#c0c0c0"/>
<rect x="802" y="602" width="1" height="29" fill="#c0c0c0"/>
<rect x="810" y="606" width="1" height="25" fill="#c0c0c0"/>
<rect x="818" y="610" width="1" height="21" fill="#c0c0c0"/>
<rect x="826" y="610" width="1" height="21" fill="#c0c0c0"/>
<rect x="834" y="613" width="1" height="18" fill="#c0c0c0"/>
<rect x="842" y="615" width="1" height="16" fill="#c0c0c0"/>
<rect x="850" y="620" width="1" height="11" fill="#c0c0c0"/>
<rect x="858" y="625" width="1" height="6" fill="#c0c0c0"/>
<rect x="866" y="628" width="1" height="3" fill="#c0c0c0"/>
<rect x="874" y="629" width="1" height="2" fill="#c0c0c0"/>
<rect x="882" y="629" width="1" height="2" fill="#c0c0c0"/>
<rect x="890" y="630" width="1" height="3" fill="#c0c0c0"/>
<rect x="898" y="630" width="1" height="6" fill="#c0c0c0"/>
<rect x="906" y="630" width="1" height="5" fill="#c0c0c0"/>
<rect x="914" y="630" width="1" height="3" fill="#c0c0c0"/>
<rect x="922" y="630" width="1" height="3" fill="#c0c0c0"/>
<rect x="930" y="630" width="1" height="5" fill="#c0c0c0"/>
<rect x="938" y="630" width="1" height="8" fill="#c0c0c0"/>
<rect x="946" y="630" width="1" height="6" fill="#c0c0c0"/>
<rect x="954" y="630" width="1" height="4" fill="#c0c0c0"/>
<rect x="962" y="629" width="1" height="2" fill="#c0c0c0"/>
<rect x="970" y="628" width="1" height="3" fill="#c0c0c0"/>
<rect x="978" y="626" width="1" height="5" fill="#c0c0c0"/>
<rect x="986" y="626" width="1" height="5" fill="#c0c0c0"/>
<rect x="994" y="629" width="1" height="2" fill="#c0c0c0"/>
<rect x="1002" y="630" width="1" height="1" fill="#c0c0c0"/>
<rect x="1010" y="628" width="1" height="3" fill="#c0c0c0"/>
<rect x="1018" y="625" width="1" height="6" fill="#c0c0c0"/>
<rect x="1026" y="623" width="1" height="8" fill="#c0c0c0"/>
<rect x="1034" y="622" width="1" height="9" fill="#c0c0c0"/>
<rect x="1042" y="623" width="1" height="8" fill="#c0c0c0"/>
<rect x="1050" y="622" width="1" height="9" fill="#c0c0c0"/>
<rect x="1058" y="622" width="1" height="9" fill="#c0c0c0"/>
<rect x="1066" y="625" width="1" height="6" fill="#c0c0c0"/>
<rect x="1074" y="625" width="1" height="6" fill="#c0c0c0"/>
<rect x="1082" y="628" width="1" height="3" fill="#c0c0c0"/>
<rect x="1090" y="630" width="1" height="1" fill="#c0c0c0"/>
<rect x="1098" y="630" width="1" height="3" fill="#c0c0c0"/>
<rect x="1106" y="630" width="1" height="6" fill="#c0c0c0"/>
<rect x="1114" y="630" width="1" height="8" fill="#c0c0c0"/>
<rect x="1122" y="630" width="1" height="12" fill="#c0c0c0"/>
<rect x="1130" y="630" width="1" height="12" fill="#c0c0c0"/>
<rect x="1138" y="630" width="1" height="12" fill="#c0c0c0"/>
<rect x="1146" y="630" width="1" height="12" fill="#c0c0c0"/>
<rect x="1154" y="630" width="1" height="11" fill="#c0c0c0"/>
<rect x="1162" y="630" width="1" height="12" fill="#c0c0c0"/>
<rect x="1170" y="630" width="1" height="12" fill="#c0c0c0"/>
<rect x="1178" y="630" width="1" height="15" fill="#c0c0c0"/>
<rect x="1186" y="630" width="1" height="20" fill="#c0c0c0"/>
<rect x="1194" y="630" width="1" height="24" fill="#c0c0c0"/>
<rect x="1202" y="630" width="1" height="28" fill="#c0c0c0"/>
<rect x="1210" y="630" width="1" height="32" fill="#c0c0c0"/>
<rect x="1218" y="630" width="1" height="33" fill="#c0c0c0"/>
<rect x="1226" y="630" width="1" height="35" fill="#c0c0c0"/>
<rect x="1234" y="630" width="1" height="35" fill="#c0c0c0"/>
<rect x="1242" y="630" width="1" height="33" fill="#c0c0c0"/>
<rect x="1250" y="630" width="1" height="29" fill="#c0c0c0"/>
<rect x="1258" y="630" width="1" height="24" fill="#c0c0c0"/>
<rect x="1266" y="630" width="1" height="20" fill="#c0c0c0"/>
<rect x="1274" y="630" width="1" height="18" fill="#c0c0c0"/>
<rect x="1282" y="630" width="1" height="11" fill="#c0c0c0"/>
<rect x="1290" y="630" width="1" height="6" fill="#c0c0c0"/>
<rect x="1298" y="630" width="1" height="2" fill="#c0c0c0"/>
<rect x="1306" y="630" width="1" height="2" fill="#c0c0c0"/>
<rect x="1314" y="630" width="1" height="2" fill="#c0c0c0"/>
<rect x="1322" y="630" width="1" height="1" fill="#c0c0c0"/>
<rect x="1330" y="629" width="1" height="2" fill="#c0c0c0"/>
<rect x="1338" y="627" width="1" height="4" fill="#c0c0c0"/>
<rect x="1346" y="623" width="1" height="8" fill="#c0c0c0"/>
<rect x="1354" y="621" width="1" height="10" fill="#c0c0c0"/>
<rect x="1362" y="620" width="1" height="11" fill="#c0c0c0"/>
<rect x="1370" y="623" width="1" height="8" fill="#c0c0c0"/>
<rect x="1378" y="622" width="1" height="9" fill="#c0c0c0"/>
<rect x="1386" y="624" width="1" height="7" fill="#c0c0c0"/>
<rect x="1394" y="626" width="1" height="5" fill="#c0c0c0"/>
<rect x="1402" y="623" width="1" height="8" fill="#c0c0c0"/>
<rect x="1410" y="622" width="1" height="9" fill="#c0c0c0"/>
<rect x="1418" y="614" width="1" height="17" fill="#c0c0c0"/>
<rect x="1426" y="609" width="1" height="22" fill="#c0c0c0"/>
<rect x="1434" y="603" width="1" height="28" fill="#c0c0c0"/>
<rect x="1442" y="597" width="1" height="34" fill="#c0c0c0"/>
<rect x="1450" y="593" width="1" height="38" fill="#c0c0c0"/>
<path d="M0 645.5h1M1 644.5H3M6 643.5h1M7 642.5H9M12 641.5h1M13 640.5H15M18 640.5h1M19 639.5H21M24 639.5h1M25 638.5H27M30 638.5H33M36 638.5H39M42 639.5H45M48 640.5H51M54 641.5H57M60 642.5H62M62 643.5h1M66 644.5H68M68 645.5h1M72 646.5H74M74 647.5h1M78 648.5h1M79 649.5H81M84 651.5H86M86 652.5h1M90 653.5H93M96 655.5H99M102 656.5h1M103 657.5H105M108 658.5H110M110 659.5h1M114 660.5H116M116 661.5h1M120 662.5h1M121 663.5H123M126 665.5H129M132 667.5H134M134 668.5h1M138 670.5h1M139 671.5h1M140 672.5h1M144 675.5h1M145 676.5H147M150 679.5h1M151 680.5h1M152 681.5h1M156 684.5h1M157 685.5h1M158 686.5h1M162 689.5h1M163 690.5h1M164 691.5h1M168 695.5h1M169 696.5h1M170 697.5h1M174 701.5h1M175 702.5h1M176 703.5h1M180 707.5h1M181 708.5h1M182 709.5h1M186 713.5h1M187 714.5H189M192 718.5h1M193 719.5h1M194 720.5h1M198 722.5h1M199 723.5h1M200 724.5h1M204 726.5H207M210 727.5H212M212 728.5h1M216 728.5H219M222 728.5H224M224 727.5h1M228 727.5H230M230 726.5h1M234 725.5h1M235 724.5H237M240 722.5H242M242 721.5h1M246 719.5h1M247 718.5H249M252 716.5h1M253 715.5h1M254 714.5h1M258 711.5H260M260 710.5h1M264 707.5h1M265 706.5h1M266 705.5h1M270 702.5h1M271 701.5h1M272 700.5h1M276 697.5h1M277 696.5H279M282 692.5H284M284 691.5h1M288 688.5h1M289 687.5h1M290 686.5h1M294 683.5h1M295 682.5H297M300 678.5H302M302 677.5h1M306 674.5h1M307 673.5h1M308 672.5h1M312 669.5H314M314 668.5h1M318 665.5h1M319 664.5h1M320 663.5h1M324 661.5h1M325 660.5H327M330 657.5H332M332 656.5h1M336 654.5h1M337 653.5H339M342 651.5h1M343 650.5H345M348 648.5H350M350 647.5h1M354 646.5H356M356 645.5h1M360 644.5H363M366 643.5H368M368 642.5h1M372 641.5H375M378 640.5h1M379 639.5H381M384 638.5H387M390 637.5H393M396 637.5H399M402 636.5H405M408 636.5H411M414 635.5H417M420 635.5H423M426 634.5H429M432 634.5H434M434 633.5h1M438 633.5H441M444 632.5H447M450 632.5H453M456 632.5H459M462 632.5H465M468 632.5H471M474 632.5H477M480 632.5H483M486 632.5h1M487 631.5H489M492 631.5H495M498 631.5H500M500 632.5h1M504 632.5H507M510 632.5h1M511 633.5H513M516 634.5H519M522 635.5H524M524 636.5h1M528 637.5H531M534 638.5H537M540 639.5h1M541 640.5H543M546 641.5H548M548 642.5h1M552 643.5H554M554 644.5h1M558 645.5H561M564 646.5H567M570 647.5H573M576 647.5H578M578 646.5h1M582 646.5H585M588 644.5H591M594 643.5h1M595 642.5H597M600 640.5H602M602 639.5h1M606 637.5H608M608 636.5h1M612 634.5H614M614 633.5h1M618 630.5H620M620 629.5h1M624 626.5H626M626 625.5h1M630 624.5h1M631 623.5H633M636 622.5H638M638 621.5h1M642 620.5H645M648 619.5H651M654 618.5H657M660 617.5H663M666 617.5H669M672 616.5H675M678 617.5H681M684 617.5H687M690 617.5H693M696 617.5H699M702 617.5H705M708 617.5H711M714 617.5H717M720 617.5H723M726 617.5H729M732 616.5H735M738 616.5h1M739 615.5H741M744 614.5h1M745 613.5H747M750 612.5H752M752 611.5h1M756 610.5H758M758 609.5h1M762 608.5h1M763 607.5H765M768 606.5h1M769 605.5H771M774 603.5H777M780 601.5H782M782 600.5h1M786 599.5h1M787 598.5H789M792 597.5h1M793 596.5H795M798 595.5h1M799 594.5H801M804 594.5H807M810 594.5H812M812 595.5h1M816 596.5H819M822 597.5H824M824 598.5h1M828 599.5H831M834 600.5h1M835 601.5H837M840 602.5H842M842 603.5h1M846 605.5H848M848 606.5h1M852 607.5h1M853 608.5H855M858 610.5H860M860 611.5h1M864 612.5h1M865 613.5H867M870 614.5h1M871 615.5H873M876 617.5H878M878 618.5h1M882 619.5h1M883 620.5H885M888 622.5H890M890 623.5h1M894 624.5h1M895 625.5H897M900 626.5h1M901 627.5H903M906 628.5H908M908 629.5h1M912 630.5H915M918 631.5H921M924 632.5H926M926 633.5h1M930 633.5H933M936 634.5H939M942 635.5H945M948 635.5H950M950 636.5h1M954 636.5H957M960 636.5H963M966 635.5H969M972 635.5H975M978 634.5H981M984 633.5H987M990 633.5h1M991 632.5H993M996 632.5H998M998 631.5h1M1002 631.5H1005M1008 630.5H1011M1014 629.5H1017M1020 628.5H1023M1026 627.5H1029M1032 626.5H1035M1038 625.5H1041M1044 625.5H1047M1050 625.5H1052M1052 624.5h1M1056 624.5H1059M1062 624.5H1065M1068 624.5H1071M1074 624.5H1077M1080 624.5H1083M1086 624.5H1089M1092 624.5H1094M1094 625.5h1M1098 625.5H1101M1104 626.5H1107M1110 627.5h1M1111 628.5H1113M1116 629.5h1M1117 630.5H1119M1122 631.5h1M1123 632.5H1125M1128 633.5H1130M1130 634.5h1M1134 635.5H1136M1136 636.5h1M1140 637.5H1142M1142 638.5h1M1146 639.5H1149M1152 639.5H1155M1158 640.5H1161M1164 640.5H1166M1166 641.5h1M1170 641.5h1M1171 642.5H1173M1176 643.5H1179M1182 644.5H1185M1188 645.5H1191M1194 646.5H1197M1200 646.5h1M1201 647.5H1203M1206 648.5H1208M1208 649.5h1M1212 650.5H1214M1214 651.5h1M1218 652.5H1221M1224 654.5H1227M1230 655.5h1M1231 656.5H1233M1236 658.5H1239M1242 659.5H1244M1244 660.5h1M1248 660.5H1251M1254 661.5H1257M1260 660.5H1263M1266 660.5H1269M1272 659.5H1275M1278 659.5h1M1279 658.5H1281M1284 656.5H1287M1290 654.5H1292M1292 653.5h1M1296 651.5H1298M1298 650.5h1M1302 648.5H1304M1304 647.5h1M1308 646.5H1310M1310 645.5h1M1314 644.5h1M1315 643.5H1317M1320 641.5H1323M1326 639.5H1328M1328 638.5h1M1332 637.5h1M1333 636.5H1335M1338 635.5h1M1339 634.5H1341M1344 633.5h1M1345 632.5H1347M1350 630.5H1353M1356 628.5H1359M1362 626.5H1365M1368 625.5H1371M1374 624.5H1377M1380 624.5H1383M1386 623.5H1389M1392 623.5H1395M1398 623.5H1400M1400 622.5h1M1404 622.5H1407M1410 622.5h1M1411 621.5H1413M1416 621.5H1418M1418 620.5h1M1422 620.5H1424M1424 619.5h1M1428 619.5h1M1429 618.5H1431M1434 617.5H1437M1440 616.5h1M1441 615.5H1443M1446 613.5H1448M1448 612.5h1" fill="none" stroke="#ff0000" stroke-width="1"/>
</g>
<polygon points="1259.6,662.1 1428.0,604.6 1428.9,607.1 1437.3,599.4 1425.9,598.4 1426.7,600.9 1258.4,658.5" fill="#ff0000"/>
<text x="-1" y="592.1" font-size="9.6" fill="#000" textLength="126.5" lengthAdjust="spacingAndGlyphs" stroke="#000" stroke-width="0.15" >MACD(12,26,9) 459.44 227.71</text>
<rect x="1685" y="580" width="2" height="1" fill="#000"/>
<text x="1688" y="590.6" font-size="9.6" fill="#000" textLength="28.1" lengthAdjust="spacingAndGlyphs" stroke="#000" stroke-width="0.15" >596.11</text>
<rect x="1685" y="630" width="2" height="1" fill="#000"/>
<text x="1688" y="634.6" font-size="9.6" fill="#000" textLength="18.0" lengthAdjust="spacingAndGlyphs" stroke="#000" stroke-width="0.15" >0.00</text>
<rect x="1685" y="746" width="2" height="1" fill="#000"/>
<text x="1688" y="746.6" font-size="9.6" fill="#000" textLength="36.5" lengthAdjust="spacingAndGlyphs" stroke="#000" stroke-width="0.15" >-1415.19</text>
<g id="rsi">
<line x1="1" y1="787.5" x2="1684" y2="787.5" stroke="#c0c0c0" stroke-width="1" stroke-dasharray="3,3"/>
<line x1="1" y1="838.5" x2="1684" y2="838.5" stroke="#c0c0c0" stroke-width="1" stroke-dasharray="3,3"/>
<line x1="1" y1="899.5" x2="1684" y2="899.5" stroke="#c0c0c0" stroke-width="1" stroke-dasharray="3,3"/>
<path d="M0 838.5H3M3 839.5H5M5 840.5H7M7 841.5h1M8 842.5H10M10 843.5H12M12 844.5H14M14 845.5H16M16 846.5h1M17 847.5H19M19.5 848V850M20 850.5h1M21.5 851V853M22 853.5h1M23.5 854V856M24 856.5h1M25.5 857V859M26 859.5h1M27 858.5H29M29 857.5H32M32 856.5H34M34 855.5h1M35 856.5H37M37 857.5H39M39 858.5H41M41 859.5H44M44 858.5H46M46 857.5H48M48 856.5H50M50 855.5h1M51 856.5h1M52.5 857V859M53 859.5h1M54 860.5h1M55 861.5h1M56.5 862V864M57 864.5h1M58 865.5H60M60 864.5H63M63 863.5H65M65 862.5H67M67 861.5H74M74 860.5h1M75 861.5H77M77 862.5H80M80 863.5H82M82.5 863V865M83.5 861V863M84.5 859V861M85.5 857V859M86.5 854V857M87.5 852V854M88.5 850V852M89.5 848V850M90.5 846V848M91.5 847V849M92.5 849V851M93.5 851V853M94.5 853V855M95.5 855V857M96.5 857V859M97.5 859V861M98 861.5h1M99.5 862V864M100.5 864V866M101.5 866V868M102.5 868V870M103.5 870V872M104.5 872V874M105.5 874V876M106 876.5h1M107.5 874V876M108.5 872V874M109.5 870V872M110.5 868V870M111.5 866V868M112.5 864V866M113.5 862V864M114 861.5h1M115 862.5H117M117 863.5H119M119 864.5H121M121 865.5H123M123.5 866V868M124 868.5h1M125 869.5h1M126.5 870V872M127 872.5h1M128 873.5h1M129.5 874V876M130 876.5h1M131 877.5H138M138 878.5h1M139 879.5h1M140 880.5h1M141 881.5h1M142 882.5h1M143 883.5h1M144 884.5h1M145 885.5h1M146 886.5H148M148 885.5h1M149 884.5h1M150 883.5H152M152 882.5h1M153 881.5h1M154 880.5h1M155 881.5h1M156 882.5h1M157 883.5H159M159 884.5h1M160 885.5h1M161 886.5H163M163 887.5H169M169 888.5H171M170 887.5h1M171.5 884V887M172.5 881V884M173.5 878V881M174.5 875V878M175.5 872V875M176.5 869V872M177.5 866V869M178.5 864V866M179.5 865V867M180 867.5h1M181.5 868V870M182 870.5h1M183.5 871V873M184 873.5h1M185.5 874V876M186.5 875V877M187 874.5h1M188.5 871V874M189 870.5h1M190.5 867V870M191 866.5h1M192.5 863V866M193 862.5h1M194.5 860V862M195.5 858V860M196 857.5h1M197 856.5h1M198.5 854V856M199 853.5h1M200 852.5h1M201.5 850V852M202 849.5h1M203 850.5H205M205 851.5H208M208 852.5H210M210 853.5h1M211 852.5H213M213 851.5H216M216 850.5H218M218 849.5h1M219 850.5H221M221 851.5H223M223 852.5H225M225 853.5h1M226 854.5h1M227 853.5h1M228 852.5h1M229 851.5h1M230.5 849V851M231 848.5h1M232 847.5h1M233 846.5h1M234 845.5h1M235 846.5h1M236 847.5h1M237 848.5h1M238 849.5h1M239 850.5H241M241 851.5h1M242 852.5H244M244 851.5H246M246 850.5H248M248 849.5H250M250 848.5h1M251 849.5H257M257 850.5H259M259 849.5h1M260 848.5h1M261 847.5h1M262 846.5h1M263 845.5h1M264 844.5h1M265 843.5H267M267 842.5h1M268 841.5h1M269 840.5h1M270.5 838V840M271 837.5h1M272 836.5h1M273 835.5h1M274 834.5h1M275 835.5h1M276 836.5h1M277 837.5h1M278.5 838V840M279 840.5h1M280 841.5h1M281 842.5h1M282 843.5h1M283 842.5h1M284 841.5H286M286 840.5H288M288 839.5h1M289 838.5H291M291 837.5H293M293 836.5H296M296 835.5H298M298 834.5h1M299 835.5h1M300 836.5H302M302 837.5H304M304 838.5H306M306 839.5H309M309 840.5H313M313 841.5H315M315 840.5h1M316 839.5H318M318 838.5h1M319 837.5H321M321 836.5h1M322 835.5H324M324 836.5H331M331 837.5h1M332 838.5h1M333 839.5h1M334 840.5h1M335 841.5h1M336 842.5h1M337 843.5h1M338 844.5H340M340 843.5H343M343 842.5H347M347 841.5H353M353 840.5H355M355 841.5H357M357 842.5H359M359 843.5h1M360 844.5H362M362 845.5h1M363 844.5h1M364 843.5h1M365 842.5h1M366.5 840V842M367 839.5h1M368 838.5h1M369 837.5h1M370 836.5H372M372 835.5h1M373 834.5h1M374 833.5h1M375 832.5H377M377 831.5h1M378 830.5H380M380 831.5H385M385 832.5H387M386 833.5h1M387.5 834V836M388.5 836V838M389.5 838V840M390.5 840V842M391.5 842V844M392.5 844V846M393.5 846V848M394.5 848V850M395 848.5H397M397 847.5h1M398 846.5H400M400 845.5h1M401 844.5h1M402 843.5H404M404 842.5h1M405 841.5H407M407 840.5h1M408 839.5H410M410 838.5h1M411 839.5H414M414 840.5H416M416 841.5H418M418 842.5h1M419 841.5h1M420 840.5H423M423 839.5h1M424 838.5H427M427 837.5h1M428 836.5h1M429 835.5h1M430 834.5H432M432 833.5h1M433 832.5h1M434 831.5h1M435 832.5h1M436 833.5h1M437 834.5H439M439 835.5h1M440 836.5H442M442 837.5H444M444 838.5H451M451 839.5h1M452 840.5h1M453 841.5h1M454 842.5h1M455 843.5h1M456 844.5H458M458 845.5H468M468 844.5H470M470 843.5h1M471 842.5H473M473 841.5h1M474 840.5H476M476 839.5h1M477 838.5h1M478 837.5h1M479 836.5h1M480 835.5h1M481 834.5h1M482 833.5H486M486 832.5H490M490 831.5h1M491 832.5h1M492 833.5h1M493 834.5H495M495 835.5h1M496 836.5H498M498.5 837V839M499.5 839V842M500.5 842V845M501.5 845V848M502.5 848V850M503.5 850V853M504.5 853V856M505.5 856V859M506.5 859V861M507 859.5H509M509 858.5H512M512 857.5H514M514 856.5h1M515 855.5h1M516 854.5h1M517 853.5h1M518.5 851V853M519 850.5h1M520 849.5h1M521 848.5h1M522 847.5h1M523 848.5h1M524 849.5H526M526 850.5H528M528 851.5H530M530 852.5H534M534 853.5H540M540 854.5H543M543 855.5H546M546 856.5h1M547.5 854V856M548.5 852V854M549.5 850V852M550 849.5h1M551.5 847V849M552.5 845V847M553.5 843V845M554 842.5h1M555 841.5h1M556 840.5h1M557 839.5h1M558 838.5H560M560 837.5h1M561 836.5h1M562 835.5h1M563 834.5h1M564 833.5H566M566 832.5H568M568 831.5h1M569 830.5H571M571 829.5H577M577 828.5H580M580 827.5h1M581 826.5h1M582 825.5H584M584 824.5h1M585 823.5h1M586 822.5H598M598 821.5H601M601 820.5H605M605 819.5H607M607 818.5H610M610 817.5h1M611.5 818V820M612.5 820V822M613.5 822V824M614.5 824V826M615.5 826V828M616.5 828V830M617.5 830V832M618 832.5h1M619 833.5H622M622 834.5H624M624 835.5H627M627.5 836V838M628 838.5h1M629 839.5h1M630.5 840V842M631 842.5h1M632 843.5h1M633.5 844V846M634 846.5h1M635.5 844V846M636.5 842V844M637 841.5h1M638.5 839V841M639 838.5h1M640.5 836V838M641.5 834V836M642 833.5H648M648 832.5H653M653 833.5H660M660 832.5h1M661 831.5H663M663 830.5H665M665 829.5h1M666 828.5h1M667 829.5H669M669 830.5H671M671 831.5H673M673 832.5H675M675 831.5h1M676 830.5h1M677 829.5h1M678 828.5h1M679 827.5h1M680 826.5h1M681 825.5h1M682 824.5h1M683 825.5h1M684 826.5h1M685 827.5h1M686.5 828V830M687 830.5h1M688 831.5h1M689 832.5h1M690 833.5H692M692 834.5h1M693 835.5H695M695 836.5H697M697 837.5H699M699 838.5H701M701 839.5h1M702 840.5H704M704 841.5h1M705 842.5H708M708 841.5H710M710 840.5H712M712 839.5H714M714.5 837V839M715 836.5h1M716.5 833V836M717 832.5h1M718.5 829V832M719 828.5h1M720.5 825V828M721 824.5h1M722.5 822V824M723 822.5h1M724 821.5H729M729 820.5H731M731.5 818V820M732.5 816V818M733 815.5h1M734.5 813V815M735 812.5h1M736.5 810V812M737.5 808V810M738 807.5h1M739 808.5h1M740 809.5h1M741 810.5h1M742.5 811V813M743 813.5h1M744 814.5h1M745 815.5h1M746 816.5h1M747 815.5H753M753 814.5H758M758 813.5H762M762 812.5h1M763.5 813V815M764 815.5h1M765.5 816V818M766 818.5h1M767.5 819V821M768 821.5h1M769.5 822V824M770 824.5H777M777 823.5H779M779 824.5H781M781 825.5h1M782 826.5H784M784 827.5H786M786 828.5H790M790 829.5H794M794 830.5h1M795.5 831V833M796 833.5h1M797 834.5h1M798.5 835V837M799 837.5h1M800 838.5h1M801.5 839V841M802 841.5h1M803 840.5H805M805 839.5H807M807 838.5H809M809 837.5h1M810 836.5h1M811 837.5H814M814 838.5H817M817 839.5H819M819.5 837V839M820 836.5h1M821 835.5h1M822.5 833V835M823 832.5h1M824 831.5h1M825.5 829V831M826 828.5h1M827 829.5h1M828.5 830V832M829 832.5h1M830 833.5h1M831 834.5h1M832.5 835V837M833 837.5h1M834 838.5H837M837 837.5H840M840 836.5H842M842 835.5h1M843.5 836V838M844 838.5h1M845 839.5h1M846.5 840V842M847 842.5h1M848 843.5h1M849.5 844V846M850 846.5H853M853 847.5H861M861 846.5H864M864 845.5H866M866 844.5H870M870 843.5H874M874 842.5h1M875 843.5H877M877 844.5H879M879 845.5H881M881 846.5H884M884 847.5H888M888 848.5H892M892 849.5H894M894 850.5H897M897 851.5H899M899.5 849V851M900.5 847V849M901 846.5h1M902.5 844V846M903 843.5h1M904.5 841V843M905.5 839V841M906 838.5H909M909 837.5H911M911 836.5H914M914 835.5h1M915 836.5h1M916 837.5H918M918 838.5h1M919 839.5h1M920 840.5H922M922 841.5h1M923 842.5h1M924 843.5h1M925 844.5h1M926.5 845V847M927 847.5h1M928 848.5h1M929 849.5h1M930 850.5H936M936 849.5H939M939.5 847V849M940 846.5h1M941 845.5h1M942.5 843V845M943 842.5h1M944 841.5h1M945.5 839V841M946 838.5h1M947 837.5h1M948 836.5h1M949 835.5h1M950 834.5h1M951 833.5h1M952 832.5h1M953 831.5h1M954 830.5h1M955 831.5H958M958 832.5H960M960 833.5H964M964 834.5H972M972 833.5h1M973 832.5H975M975 831.5H977M977 830.5H979M979 829.5H985M985 828.5H987M987 829.5h1M988 830.5H990M990 831.5H992M992 832.5h1M993 833.5H995M995.5 834V836M996.5 836V838M997.5 838V840M998 840.5h1M999.5 841V843M1000.5 843V845M1001.5 845V847M1002 847.5h1M1003.5 845V847M1004 844.5h1M1005 843.5h1M1006.5 841V843M1007 840.5h1M1008 839.5h1M1009.5 837V839M1010 836.5h1M1011 835.5h1M1012.5 833V835M1013 832.5h1M1014 831.5h1M1015 830.5h1M1016.5 828V830M1017 827.5h1M1018 826.5h1M1019 827.5H1023M1023 828.5H1035M1035 829.5h1M1036 830.5h1M1037 831.5h1M1038.5 832V834M1039 834.5h1M1040 835.5h1M1041 836.5h1M1042 837.5h1M1043 836.5H1045M1045 835.5h1M1046 834.5H1048M1048 833.5h1M1049 832.5h1M1050 831.5h1M1051 832.5h1M1052 833.5h1M1053 834.5h1M1054 835.5h1M1055 836.5h1M1056 837.5h1M1057 838.5h1M1058 839.5H1076M1076 840.5H1078M1078 841.5H1081M1081 842.5H1083M1083 843.5h1M1084 844.5h1M1085 845.5h1M1086 846.5h1M1087 847.5h1M1088 848.5h1M1089 849.5h1M1090 850.5H1092M1092 851.5H1094M1094 852.5H1096M1096 853.5H1098M1098 854.5H1103M1103 855.5H1108M1108 856.5H1112M1112 857.5H1115M1115 858.5H1117M1117 859.5h1M1118 860.5H1120M1120 861.5h1M1121 862.5h1M1122 863.5h1M1123.5 861V863M1124 860.5h1M1125 859.5h1M1126.5 857V859M1127 856.5h1M1128 855.5h1M1129.5 853V855M1130 852.5H1133M1133 851.5H1135M1135 850.5H1138M1138 849.5h1M1139 848.5h1M1140 847.5h1M1141 846.5h1M1142 845.5h1M1143 844.5h1M1144 843.5h1M1145 842.5h1M1146 841.5H1150M1150 842.5H1155M1155.5 843V845M1156 845.5h1M1157.5 846V848M1158 848.5h1M1159.5 849V851M1160 851.5h1M1161.5 852V854M1162 854.5H1164M1164 853.5h1M1165 852.5H1167M1167 851.5h1M1168 850.5H1170M1170 849.5h1M1171.5 850V852M1172.5 852V854M1173.5 854V856M1174.5 856V858M1175.5 858V860M1176.5 860V862M1177.5 862V864M1178 864.5h1M1179 865.5h1M1180 866.5H1182M1182 867.5H1184M1184 868.5H1186M1186 869.5H1189M1189 868.5H1193M1193 867.5H1195M1195 868.5h1M1196 869.5h1M1197 870.5h1M1198 871.5h1M1199 872.5h1M1200 873.5h1M1201 874.5h1M1202 875.5h1M1203 876.5H1207M1207 877.5H1211M1211.5 875V877M1212 874.5h1M1213 873.5h1M1214.5 871V873M1215 870.5h1M1216 869.5h1M1217.5 867V869M1218 866.5h1M1219 867.5H1221M1221 868.5H1224M1224 869.5H1226M1226 870.5h1M1227 869.5h1M1228 868.5h1M1229 867.5h1M1230 866.5h1M1231 865.5h1M1232 864.5h1M1233 863.5H1235M1235.5 861V863M1236.5 859V861M1237 858.5h1M1238.5 856V858M1239 855.5h1M1240.5 853V855M1241.5 851V853M1242 850.5H1244M1244 849.5h1M1245 848.5H1247M1247 847.5h1M1248 846.5H1250M1250 845.5h1M1251 844.5h1M1252 843.5h1M1253 842.5h1M1254 841.5h1M1255 840.5h1M1256 839.5h1M1257 838.5h1M1258 837.5H1260M1260 838.5H1264M1264 839.5H1268M1268 840.5H1272M1272 841.5H1275M1274 840.5h1M1275.5 838V840M1276.5 836V838M1277.5 834V836M1278.5 831V834M1279.5 829V831M1280.5 827V829M1281.5 825V827M1282.5 823V825M1283 823.5H1291M1291 824.5H1294M1294 825.5H1297M1297 826.5H1299M1298 827.5h1M1299.5 828V830M1300.5 830V832M1301.5 832V834M1302.5 834V837M1303.5 837V839M1304.5 839V841M1305.5 841V843M1306.5 843V845M1307 843.5h1M1308 842.5h1M1309 841.5h1M1310.5 839V841M1311 838.5h1M1312 837.5h1M1313 836.5h1M1314 835.5H1316M1316 834.5h1M1317 833.5H1319M1319 832.5H1321M1321 831.5h1M1322 830.5H1324M1324 831.5H1330M1330 832.5h1M1331 831.5H1333M1333 830.5H1335M1335 829.5H1337M1337 828.5H1339M1339 827.5H1341M1341 826.5h1M1342 825.5H1344M1344 824.5H1346M1346 823.5H1348M1348 822.5H1351M1351 821.5H1353M1353 820.5H1355M1355 821.5h1M1356 822.5h1M1357 823.5h1M1358 824.5h1M1359 825.5h1M1360 826.5h1M1361 827.5h1M1362 828.5h1M1363 829.5h1M1364 830.5H1366M1366 831.5H1368M1368 832.5H1370M1370 833.5H1372M1372 834.5H1374M1374 835.5H1376M1376 836.5H1378M1378 837.5h1M1379 838.5h1M1380.5 839V841M1381 841.5h1M1382 842.5h1M1383 843.5h1M1384.5 844V846M1385 846.5h1M1386 847.5h1M1387 846.5H1389M1389 845.5h1M1390 844.5h1M1391 843.5h1M1392 842.5h1M1393 841.5h1M1394.5 839V841M1395.5 837V839M1396.5 835V837M1397.5 833V835M1398.5 830V833M1399.5 828V830M1400.5 826V828M1401.5 824V826M1402.5 822V824M1403 823.5H1406M1406 824.5H1408M1408 825.5H1410M1410.5 825V827M1411.5 823V825M1412.5 821V823M1413.5 819V821M1414.5 816V819M1415.5 814V816M1416.5 812V814M1417.5 810V812M1418.5 808V810M1419 809.5H1422M1422 810.5H1424M1424 811.5H1426M1426 812.5h1M1427 811.5h1M1428 810.5H1430M1430 809.5H1432M1432 808.5h1M1433 807.5H1435M1435 806.5h1M1436 805.5h1M1437 804.5H1439M1439 803.5h1M1440 802.5H1442M1442 801.5H1444M1444 802.5H1446M1446 803.5H1448M1448 804.5H1450M1450 805.5h1" fill="none" stroke="#1e90ff" stroke-width="1"/>
</g>
<text x="-1" y="763.5" font-size="9.6" fill="#000" textLength="67" lengthAdjust="spacingAndGlyphs" stroke="#000" stroke-width="0.15" >RSI(14) 69.7169</text>
<rect x="1685" y="753" width="2" height="1" fill="#000"/>
<text x="1688" y="761.9" font-size="9.6" fill="#000" textLength="15.2" lengthAdjust="spacingAndGlyphs" stroke="#000" stroke-width="0.15" >100</text>
<rect x="1685" y="787" width="2" height="1" fill="#000"/>
<text x="1688" y="791.3000000000001" font-size="9.6" fill="#000" textLength="10.1" lengthAdjust="spacingAndGlyphs" stroke="#000" stroke-width="0.15" >80</text>
<rect x="1685" y="838" width="2" height="1" fill="#000"/>
<text x="1688" y="842.3000000000001" font-size="9.6" fill="#000" textLength="10.1" lengthAdjust="spacingAndGlyphs" stroke="#000" stroke-width="0.15" >50</text>
<rect x="1685" y="899" width="2" height="1" fill="#000"/>
<text x="1688" y="903.2" font-size="9.6" fill="#000" textLength="10.1" lengthAdjust="spacingAndGlyphs" stroke="#000" stroke-width="0.15" >15</text>
<rect x="1685" y="923" width="2" height="1" fill="#000"/>
<text x="1688" y="922.3000000000001" font-size="9.6" fill="#000" textLength="5.1" lengthAdjust="spacingAndGlyphs" stroke="#000" stroke-width="0.15" >0</text>
<text x="-7.3" y="938.2" font-size="9.6" fill="#000" textLength="51.9" lengthAdjust="spacingAndGlyphs" stroke="#000" stroke-width="0.15" >18 Feb 2020</text>
<rect x="58" y="926" width="1" height="3" fill="#000"/>
<text x="56.7" y="938.2" font-size="9.6" fill="#000" textLength="51.9" lengthAdjust="spacingAndGlyphs" stroke="#000" stroke-width="0.15" >28 Feb 2020</text>
<rect x="122" y="926" width="1" height="3" fill="#000"/>
<text x="120.7" y="938.2" font-size="9.6" fill="#000" textLength="52.4" lengthAdjust="spacingAndGlyphs" stroke="#000" stroke-width="0.15" >11 Mar 2020</text>
<rect x="186" y="926" width="1" height="3" fill="#000"/>
<text x="184.7" y="938.2" font-size="9.6" fill="#000" textLength="52.4" lengthAdjust="spacingAndGlyphs" stroke="#000" stroke-width="0.15" >23 Mar 2020</text>
<rect x="250" y="926" width="1" height="3" fill="#000"/>
<text x="248.7" y="938.2" font-size="9.6" fill="#000" textLength="45.9" lengthAdjust="spacingAndGlyphs" stroke="#000" stroke-width="0.15" >2 Apr 2020</text>
<rect x="314" y="926" width="1" height="3" fill="#000"/>
<text x="312.7" y="938.2" font-size="9.6" fill="#000" textLength="51.1" lengthAdjust="spacingAndGlyphs" stroke="#000" stroke-width="0.15" >16 Apr 2020</text>
<rect x="378" y="926" width="1" height="3" fill="#000"/>
<text x="376.7" y="938.2" font-size="9.6" fill="#000" textLength="51.1" lengthAdjust="spacingAndGlyphs" stroke="#000" stroke-width="0.15" >28 Apr 2020</text>
<rect x="442" y="926" width="1" height="3" fill="#000"/>
<text x="440.7" y="938.2" font-size="9.6" fill="#000" textLength="53.8" lengthAdjust="spacingAndGlyphs" stroke="#000" stroke-width="0.15" >12 May 2020</text>
<rect x="506" y="926" width="1" height="3" fill="#000"/>
<text x="504.7" y="938.2" font-size="9.6" fill="#000" textLength="53.8" lengthAdjust="spacingAndGlyphs" stroke="#000" stroke-width="0.15" >22 May 2020</text>
<rect x="570" y="926" width="1" height="3" fill="#000"/>
<text x="568.7" y="938.2" font-size="9.6" fill="#000" textLength="46.1" lengthAdjust="spacingAndGlyphs" stroke="#000" stroke-width="0.15" >3 Jun 2020</text>
<rect x="634" y="926" width="1" height="3" fill="#000"/>
<text x="632.7" y="938.2" font-size="9.6" fill="#000" textLength="51.2" lengthAdjust="spacingAndGlyphs" stroke="#000" stroke-width="0.15" >15 Jun 2020</text>
<rect x="698" y="926" width="1" height="3" fill="#000"/>
<text x="696.7" y="938.2" font-size="9.6" fill="#000" textLength="51.2" lengthAdjust="spacingAndGlyphs" stroke="#000" stroke-width="0.15" >26 Jun 2020</text>
<rect x="762" y="926" width="1" height="3" fill="#000"/>
<text x="760.7" y="938.2" font-size="9.6" fill="#000" textLength="43.0" lengthAdjust="spacingAndGlyphs" stroke="#000" stroke-width="0.15" >9 Jul 2020</text>
<rect x="826" y="926" width="1" height="3" fill="#000"/>
<text x="824.7" y="938.2" font-size="9.6" fill="#000" textLength="48.1" lengthAdjust="spacingAndGlyphs" stroke="#000" stroke-width="0.15" >21 Jul 2020</text>
<rect x="890" y="926" width="1" height="3" fill="#000"/>
<text x="888.7" y="938.2" font-size="9.6" fill="#000" textLength="48.1" lengthAdjust="spacingAndGlyphs" stroke="#000" stroke-width="0.15" >31 Jul 2020</text>
<rect x="954" y="926" width="1" height="3" fill="#000"/>
<text x="952.7" y="938.2" font-size="9.6" fill="#000" textLength="52.9" lengthAdjust="spacingAndGlyphs" stroke="#000" stroke-width="0.15" >12 Aug 2020</text>
<rect x="1018" y="926" width="1" height="3" fill="#000"/>
<text x="1016.7" y="938.2" font-size="9.6" fill="#000" textLength="52.9" lengthAdjust="spacingAndGlyphs" stroke="#000" stroke-width="0.15" >24 Aug 2020</text>
<rect x="1082" y="926" width="1" height="3" fill="#000"/>
<text x="1080.7" y="938.2" font-size="9.6" fill="#000" textLength="47.1" lengthAdjust="spacingAndGlyphs" stroke="#000" stroke-width="0.15" >3 Sep 2020</text>
<rect x="1146" y="926" width="1" height="3" fill="#000"/>
<text x="1144.7" y="938.2" font-size="9.6" fill="#000" textLength="52.2" lengthAdjust="spacingAndGlyphs" stroke="#000" stroke-width="0.15" >15 Sep 2020</text>
<rect x="1210" y="926" width="1" height="3" fill="#000"/>
<text x="1208.7" y="938.2" font-size="9.6" fill="#000" textLength="52.2" lengthAdjust="spacingAndGlyphs" stroke="#000" stroke-width="0.15" >25 Sep 2020</text>
<rect x="1274" y="926" width="1" height="3" fill="#000"/>
<text x="1272.7" y="938.2" font-size="9.6" fill="#000" textLength="45.8" lengthAdjust="spacingAndGlyphs" stroke="#000" stroke-width="0.15" >9 Oct 2020</text>
<rect x="1338" y="926" width="1" height="3" fill="#000"/>
<text x="1336.7" y="938.2" font-size="9.6" fill="#000" textLength="51.0" lengthAdjust="spacingAndGlyphs" stroke="#000" stroke-width="0.15" >21 Oct 2020</text>
<rect x="1402" y="926" width="1" height="3" fill="#000"/>
<text x="1400.7" y="938.2" font-size="9.6" fill="#000" textLength="47.7" lengthAdjust="spacingAndGlyphs" stroke="#000" stroke-width="0.15" >3 Nov 2020</text>
<rect x="1730" y="20" width="1" height="928" fill="#e3e3e3"/>
<rect x="0" y="946" width="1731" height="1" fill="#e4e4e4"/>
<rect x="0" y="947" width="1731" height="1" fill="#f0f0f0"/>
<defs><linearGradient id="g1" x1="0" y1="0" x2="0" y2="1"><stop offset="0" stop-color="#f85858"/><stop offset="1" stop-color="#dc3232"/></linearGradient><linearGradient id="g2" x1="0" y1="0" x2="0" y2="1"><stop offset="0" stop-color="#e03434"/><stop offset="0.5" stop-color="#cc1c1c"/><stop offset="1" stop-color="#b40404"/></linearGradient><linearGradient id="g3" x1="0" y1="0" x2="0" y2="1"><stop offset="0" stop-color="#f4f4f4"/><stop offset="1" stop-color="#d4d4d4"/></linearGradient></defs>
<rect x="0" y="44" width="219" height="66" fill="#fff"/>
<rect x="0" y="44" width="49" height="25" fill="url(#g1)"/>
<rect x="164" y="44" width="52" height="25" fill="url(#g1)"/>
<rect x="0" y="68" width="106" height="40" fill="url(#g2)"/>
<rect x="108" y="68" width="108" height="40" fill="url(#g2)"/>
<rect x="1" y="67" width="44" height="1" fill="#a81414"/>
<rect x="1" y="68" width="44" height="1" fill="#ec6a6a"/>
<rect x="168" y="67" width="44" height="1" fill="#a81414"/>
<rect x="168" y="68" width="44" height="1" fill="#ec6a6a"/>
<rect x="49" y="44" width="115" height="24" fill="#fff"/>
<rect x="51.5" y="44.5" width="110" height="21" fill="#fff" stroke="#c4c4c4" stroke-width="1"/>
<rect x="52.5" y="45.5" width="19" height="19" fill="url(#g3)" stroke="#d8d8d8" stroke-width="1"/>
<rect x="141.5" y="45.5" width="19" height="19" fill="url(#g3)" stroke="#d8d8d8" stroke-width="1"/>
<path d="M59 53.2h5l-2.5 3z" fill="#4a5abc" shape-rendering="geometricPrecision"/>
<path d="M148 56.2h5l-2.5-3z" fill="#4a5abc" shape-rendering="geometricPrecision"/>
<text x="136.6" y="59.6" font-size="12.5" fill="#1a1a1a" text-anchor="end" textLength="23.5" lengthAdjust="spacingAndGlyphs" >1.00</text>
<text x="9.3" y="59.8" font-size="12" fill="#fff0f0" textLength="25.5" lengthAdjust="spacingAndGlyphs" >SELL</text>
<text x="177.7" y="59.8" font-size="12" fill="#fff0f0" textLength="22" lengthAdjust="spacingAndGlyphs" >BUY</text>
<text x="13.3" y="99" font-size="12" fill="#fff" textLength="34" lengthAdjust="spacingAndGlyphs" font-weight="bold" >26249</text>
<text x="123.6" y="99" font-size="12" fill="#fff" textLength="34" lengthAdjust="spacingAndGlyphs" font-weight="bold" >26268</text>
<rect x="53" y="96" width="3" height="3" fill="#fff"/>
<rect x="163.6" y="96" width="3" height="3" fill="#fff"/>
<text x="59.5" y="99.3" font-size="34" fill="#fff" textLength="15" lengthAdjust="spacingAndGlyphs" >5</text>
<text x="170.4" y="99.3" font-size="34" fill="#fff" textLength="15" lengthAdjust="spacingAndGlyphs" >5</text>
<rect x="0" y="0" width="1731" height="20" fill="#f0f0f0"/>
<rect x="0" y="20" width="1731" height="1" fill="#b4b4b4"/>
<rect x="0" y="21" width="1731" height="1" fill="#696969"/>
<rect x="0" y="22" width="1731" height="2" fill="#ffffff"/>
<g shape-rendering="geometricPrecision">
<rect x="-6" y="-3" width="13.5" height="17.5" rx="1" fill="#fff" stroke="#3a78c8" stroke-width="1.2"/>
<rect x="0" y="3" width="6" height="1" fill="#c4d8f4"/>
<rect x="0" y="6" width="6" height="1" fill="#c4d8f4"/>
<rect x="0" y="9" width="6" height="1" fill="#c4d8f4"/>
<rect x="0" y="12" width="6" height="1" fill="#c4d8f4"/>
<rect x="20.5" y="-3" width="11.5" height="16.5" fill="#fbfbfb" stroke="#c8b89c" stroke-width="1"/>
<path d="M23.5 1v6M26.5 0v8M29.5 1v5" stroke="#8a8a8a" stroke-width="1" fill="none"/>
<line x1="32" y1="12.5" x2="37" y2="17" stroke="#c89a28" stroke-width="2.6" stroke-linecap="round"/>
<circle cx="28.2" cy="8.8" r="4.6" fill="#cfe2fa" fill-opacity="0.75" stroke="#8fb4e8" stroke-width="1.3"/>
<rect x="45" y="0" width="1" height="18" fill="#a0a0a0"/>
<path d="M55.5 0.5h7.5l3.5 3.5v9.5h-11z" fill="#fdfdfd" stroke="#8c8c8c" stroke-width="1"/>
<path d="M63.0 0.5v3.5h3.5" fill="none" stroke="#8c8c8c" stroke-width="0.8"/>
<path d="M57.5 3h4M57.5 6h6M57.5 9h5" stroke="#b0b0b0" stroke-width="1"/>
<path d="M62.7 6h3.6v3.8h3.8v3.6h-3.8v3.8h-3.6v-3.8h-3.8v-3.6h3.8z" fill="#2fc42f" stroke="#0f8f0f" stroke-width="0.8"/>
<defs><linearGradient id="gb" x1="0" y1="0" x2="1" y2="0"><stop offset="0" stop-color="#fbe66a"/><stop offset="0.55" stop-color="#eec23a"/><stop offset="1" stop-color="#d49a1c"/></linearGradient></defs>
<path d="M122 10.6l8 5.2 8-6v-2.6l-8 5.6-8-4.6z" fill="#f3e3b4" stroke="#a66a10" stroke-width="0.9"/>
<path d="M127.8 1.2l9.8 5.8-7.6 5.8-8-4.6c2.4-.4 4.6-3.4 5.8-7z" fill="url(#gb)" stroke="#a66a10" stroke-width="0.9"/>
<path d="M152.2 -2h11v10.5h-11z" fill="#2e8af0" stroke="#1a5cc4" stroke-width="0.9"/>
<path d="M152.2 -2h3.4v10.5h-3.4z" fill="#7cc0fa"/>
<rect x="156.6" y="3.4" width="5.4" height="2.2" fill="#dcecff"/>
<path d="M152.5 15.2c-3.2 0-3.4-4.2-.4-4.6.4-3 4.4-3.4 5.4-.8 1.4-2 4.6-1 4.4 1.4 3.6-.2 3.8 4 0.6 4z" fill="#f4f7fc" stroke="#7c96c4" stroke-width="1"/>
<path d="M185.8 7.4l6.6-3.8a7.6 7.6 0 0 1-6.6 11.4z" fill="#7cc47c" fill-opacity="0.75"/>
<path d="M185.8 7.4l3.8-6.6a7.6 7.6 0 0 1 2.8 2.8z" fill="#b8dcc0" fill-opacity="0.7"/>
<circle cx="185.8" cy="7.4" r="7.6" fill="none" stroke="#9ab2e4" stroke-width="1"/>
<path d="M185.8 -0.2a7.6 7.6 0 0 1 0 15.2" fill="none" stroke="#8cc494" stroke-width="1"/>
<circle cx="185.8" cy="7.4" r="4.8" fill="none" stroke="#6a8ee0" stroke-width="1.1"/>
<path d="M185.8 2.6a4.8 4.8 0 0 1 0 9.6" fill="none" stroke="#7cbc8c" stroke-width="1.1"/>
<path d="M186.2 7.4v8" stroke="#22a422" stroke-width="1.5"/>
<circle cx="185.8" cy="7.4" r="1.9" fill="#2456cc"/>
<path d="M206.6 6.4c1.6 4.8 3.6 8 6.6 9.4 3.4-.6 6-3.4 7.2-7.6z" fill="#f6d64e" stroke="#c49a1e" stroke-width="0.8"/>
<ellipse cx="213" cy="4.8" rx="8" ry="2.9" fill="#58a4e2" stroke="#2e7ac2" stroke-width="0.8"/>
<path d="M208.8 4c.2-3.4 1.8-6 4.2-6s4 2.600 4.200 6c-2.800 1.200-5.600 1.200-8.400 0z" fill="#74b8ee" stroke="#3a86cc" stroke-width="0.7"/>
<circle cx="217.5" cy="11.5" r="4.1" fill="#dc2a1a" stroke="#a81408" stroke-width="0.6"/>
<rect x="215.9" y="9.9" width="3.2" height="3.2" fill="#fff"/>
<rect x="281" y="0" width="1" height="20" fill="#a0a0a0"/>
<rect x="282" y="0" width="1" height="20" fill="#ffffff"/>
<rect x="285" y="0" width="4" height="1" fill="#9c9c9c"/>
<rect x="285" y="2" width="4" height="1" fill="#9c9c9c"/>
<rect x="285" y="4" width="4" height="1" fill="#9c9c9c"/>
<rect x="285" y="6" width="4" height="1" fill="#9c9c9c"/>
<rect x="285" y="8" width="4" height="1" fill="#9c9c9c"/>
<rect x="285" y="10" width="4" height="1" fill="#9c9c9c"/>
<rect x="285" y="12" width="4" height="1" fill="#9c9c9c"/>
<rect x="285" y="14" width="4" height="1" fill="#9c9c9c"/>
<rect x="285" y="16" width="4" height="1" fill="#9c9c9c"/>
<path d="M299.5 2.5v14M297.0 13.5h13" stroke="#5a5a5a" stroke-width="1.2" fill="none"/>
<path d="M297.4 4.2l2.1-2.6 2.1 2.6zM309 11.6l2.8 1.9-2.8 1.9z" fill="#5a5a5a"/>
<path d="M306 3.5v8M306 4h2.4M303.4 10.5h2.6" stroke="#14962a" stroke-width="1.4" fill="none"/>
<rect x="319" y="0" width="1" height="18" fill="#a0a0a0"/>
<rect x="320" y="0" width="24" height="18" fill="#f8f8f8"/>
<path d="M327.5 2.5v14M325.0 13.5h13" stroke="#5a5a5a" stroke-width="1.2" fill="none"/>
<path d="M325.4 4.2l2.1-2.6 2.1 2.6zM337 11.6l2.8 1.9-2.8 1.9z" fill="#5a5a5a"/>
<path d="M333.5 -1v13" stroke="#14962a" stroke-width="1.4"/>
<rect x="331.3" y="2.6" width="4.4" height="7" fill="#32d24a" stroke="#14962a" stroke-width="0.9"/>
<path d="M355.5 2.5v14M353.0 13.5h13" stroke="#5a5a5a" stroke-width="1.2" fill="none"/>
<path d="M353.4 4.2l2.1-2.6 2.1 2.6zM365 11.6l2.8 1.9-2.8 1.9z" fill="#5a5a5a"/>
<path d="M354.5 10.8c2-1.4 3.6-5.6 6-5.6 1.8 0 3.2 2.8 5.4 3.8" stroke="#14962a" stroke-width="1.3" fill="none"/>
<rect x="376" y="0" width="1" height="18" fill="#a0a0a0"/>
<line x1="395" y1="10" x2="400" y2="14.8" stroke="#c8a028" stroke-width="2.8" stroke-linecap="round"/>
<line x1="395.6" y1="10.2" x2="399.6" y2="14" stroke="#f2dc78" stroke-width="1"/>
<circle cx="391" cy="6" r="5.4" fill="#d6e6fa" stroke="#3a78d2" stroke-width="1.3"/>
<path d="M388 6h6" stroke="#3a78d2" stroke-width="1.8"/>
<path d="M391 3v6" stroke="#3a78d2" stroke-width="1.8"/>
<line x1="423" y1="10" x2="428" y2="14.8" stroke="#c8a028" stroke-width="2.8" stroke-linecap="round"/>
<line x1="423.6" y1="10.2" x2="427.6" y2="14" stroke="#f2dc78" stroke-width="1"/>
<circle cx="419" cy="6" r="5.4" fill="#d6e6fa" stroke="#3a78d2" stroke-width="1.3"/>
<path d="M416 6h6" stroke="#3a78d2" stroke-width="1.8"/>
<rect x="441.3" y="-1" width="7.6" height="8" fill="#4aa82a" stroke="#2e8a14" stroke-width="0.6"/>
<rect x="442.6" y="2.4" width="5" height="3" fill="#f0f4fa"/>
<rect x="449.4" y="-1" width="7.6" height="8" fill="#3a6edc" stroke="#1c46b4" stroke-width="0.6"/>
<rect x="450.7" y="2.4" width="5" height="3" fill="#f0f4fa"/>
<rect x="441.3" y="8" width="7.6" height="8" fill="#3a6edc" stroke="#1c46b4" stroke-width="0.6"/>
<rect x="442.6" y="11.4" width="5" height="3" fill="#f0f4fa"/>
<rect x="449.4" y="8" width="7.6" height="8" fill="#4aa82a" stroke="#2e8a14" stroke-width="0.6"/>
<rect x="450.7" y="11.4" width="5" height="3" fill="#f0f4fa"/>
<rect x="466" y="0" width="1" height="18" fill="#a0a0a0"/>
<rect x="471" y="0" width="1" height="18" fill="#a0a0a0"/>
<rect x="472" y="0" width="24" height="18" fill="#f8f8f8"/>
<path d="M479.5 2.5v14M477.0 13.5h13" stroke="#5a5a5a" stroke-width="1.2" fill="none"/>
<path d="M477.4 4.2l2.1-2.6 2.1 2.6zM489 11.6l2.8 1.9-2.8 1.9z" fill="#5a5a5a"/>
<path d="M484.3 4.6l3.6 3-3.6 3z" fill="#7ad47a" stroke="#14962a" stroke-width="1"/>
<rect x="499" y="0" width="1" height="18" fill="#a0a0a0"/>
<rect x="500" y="0" width="24" height="18" fill="#f8f8f8"/>
<path d="M507.5 2.5v14M505.0 13.5h13" stroke="#5a5a5a" stroke-width="1.2" fill="none"/>
<path d="M505.4 4.2l2.1-2.6 2.1 2.6zM517 11.6l2.8 1.9-2.8 1.9z" fill="#5a5a5a"/>
<path d="M513.5 2v10" stroke="#1e78c8" stroke-width="1.3"/>
<path d="M514.6 7.6h4.8M516.8 5.4l-2.2 2.2 2.2 2.2" stroke="#e04a14" stroke-width="1.3" fill="none"/>
<rect x="528" y="0" width="1" height="18" fill="#a0a0a0"/>
<path d="M539 0.5h7.5l3.5 3.5v9.5h-11z" fill="#fdfdfd" stroke="#8c8c8c" stroke-width="1"/>
<path d="M546.5 0.5v3.5h3.5" fill="none" stroke="#8c8c8c" stroke-width="0.8"/>
<path d="M541 3h4M541 6h6M541 9h5" stroke="#b0b0b0" stroke-width="1"/>
<path d="M546.2 6h3.6v3.8h3.8v3.6h-3.8v3.8h-3.6v-3.8h-3.8v-3.6h3.8z" fill="#2fc42f" stroke="#0f8f0f" stroke-width="0.8"/>
<path d="M559.5 7.2h6l-3 3.2z" fill="#000"/>
<circle cx="584" cy="8" r="7" fill="#f4f8fc" stroke="#1e6ad2" stroke-width="2.2"/>
<path d="M584 3.6v4.6h3" stroke="#3c3c3c" stroke-width="1.2" fill="none"/>
<rect x="582" y="-1" width="4" height="1.6" fill="#1e6ad2"/>
<path d="M598.6 7.2h6l-3 3.2z" fill="#000"/>
<rect x="615.6" y="1.2" width="15" height="13.6" fill="#fff" stroke="#3a78d2" stroke-width="1.2"/>
<rect x="615.6" y="1.2" width="15" height="2.2" fill="#6aa0ea"/>
<path d="M617.5 7.6l2.4-1 2-1.2 2.4 1 2.2-.6 2.4-.6" stroke="#b42a14" stroke-width="1.2" fill="none"/>
<path d="M616 9.2h14.4" stroke="#9ab4dc" stroke-width="0.8"/>
<path d="M617.5 12.8l2.4-.4 2-1.2 2.2-1 2.4 1.8 2.4.6" stroke="#1e962a" stroke-width="1.2" fill="none"/>
<path d="M637.6 7.2h6l-3 3.2z" fill="#000"/>
<rect x="649" y="0" width="1" height="20" fill="#a0a0a0"/>
<rect x="650" y="0" width="1" height="20" fill="#ffffff"/>
<rect x="653" y="0" width="4" height="1" fill="#9c9c9c"/>
<rect x="653" y="2" width="4" height="1" fill="#9c9c9c"/>
<rect x="653" y="4" width="4" height="1" fill="#9c9c9c"/>
<rect x="653" y="6" width="4" height="1" fill="#9c9c9c"/>
<rect x="653" y="8" width="4" height="1" fill="#9c9c9c"/>
<rect x="653" y="10" width="4" height="1" fill="#9c9c9c"/>
<rect x="653" y="12" width="4" height="1" fill="#9c9c9c"/>
<rect x="653" y="14" width="4" height="1" fill="#9c9c9c"/>
<rect x="653" y="16" width="4" height="1" fill="#9c9c9c"/>
<rect x="659" y="0" width="1" height="18" fill="#a0a0a0"/>
<rect x="660" y="0" width="24" height="18" fill="#f8f8f8"/>
<path d="M667.3 0.5v12l2.8-2.6 2.4 5 1.9-.9-2.4-4.8h3.8z" fill="#505050"/>
<path d="M699.5 1.5v14M692 8.5h15" stroke="#505050" stroke-width="1.1"/>
<rect x="716" y="0" width="1" height="18" fill="#a0a0a0"/>
<path d="M733.5 2v13" stroke="#505050" stroke-width="1.2"/>
<path d="M756 8.5h12" stroke="#505050" stroke-width="1.2"/>
<path d="M783.8 14.8l12.2-11.6" stroke="#505050" stroke-width="1.2"/>
<path d="M810 9.6l10-8M812 14.6l11.4-9" stroke="#505050" stroke-width="1"/>
<path d="M811.6 13.2l2-5M814.6 11.6l2-5.6M817.6 9.4l2-5.6M820.4 7l1.6-7" stroke="#505050" stroke-width="1"/>
<text x="820.6" y="16.6" font-size="6.5" fill="#404040" font-weight="bold" >E</text>
<line x1="839" y1="1.5" x2="852" y2="1.5" stroke="#606060" stroke-width="1" stroke-dasharray="1,1" shape-rendering="crispEdges"/>
<line x1="839" y1="4.5" x2="852" y2="4.5" stroke="#606060" stroke-width="1" stroke-dasharray="1,1" shape-rendering="crispEdges"/>
<line x1="839" y1="8.5" x2="852" y2="8.5" stroke="#606060" stroke-width="1" stroke-dasharray="1,1" shape-rendering="crispEdges"/>
<line x1="839" y1="12.5" x2="852" y2="12.5" stroke="#606060" stroke-width="1" stroke-dasharray="1,1" shape-rendering="crispEdges"/>
<rect x="848" y="11" width="6" height="7" fill="#f0f0f0"/>
<text x="848.8" y="16.9" font-size="6.5" fill="#404040" font-weight="bold" >F</text>
<text x="869.6" y="13" font-size="13" fill="#585858" textLength="8.2" lengthAdjust="spacingAndGlyphs" >A</text>
<rect x="896.5" y="1.5" width="11" height="13" fill="none" stroke="#585858" stroke-width="1" stroke-dasharray="1,1" shape-rendering="crispEdges"/>
<text x="897.8" y="12.6" font-size="11" fill="#585858" textLength="8.4" lengthAdjust="spacingAndGlyphs" font-weight="bold" >T</text>
<path d="M926.6 1.6l3.2 2.6-3.2 2.6-3.2-2.6zM933.6 9.6l3.4 2.7-3.4 2.7-3.4-2.7z" fill="#505050"/>
<path d="M925.4 9.4l2.2 1.8 4.4-5" stroke="#505050" stroke-width="1.3" fill="none"/>
<path d="M943.4 7.2h6l-3 3.2z" fill="#000"/>
<rect x="955" y="0" width="1" height="20" fill="#a0a0a0"/>
<rect x="956" y="0" width="1" height="20" fill="#ffffff"/>
<rect x="959" y="0" width="4" height="1" fill="#9c9c9c"/>
<rect x="959" y="2" width="4" height="1" fill="#9c9c9c"/>
<rect x="959" y="4" width="4" height="1" fill="#9c9c9c"/>
<rect x="959" y="6" width="4" height="1" fill="#9c9c9c"/>
<rect x="959" y="8" width="4" height="1" fill="#9c9c9c"/>
<rect x="959" y="10" width="4" height="1" fill="#9c9c9c"/>
<rect x="959" y="12" width="4" height="1" fill="#9c9c9c"/>
<rect x="959" y="14" width="4" height="1" fill="#9c9c9c"/>
<rect x="959" y="16" width="4" height="1" fill="#9c9c9c"/>
<rect x="1133" y="0" width="1" height="18" fill="#a0a0a0"/>
<rect x="1134" y="0" width="24" height="18" fill="#f8f8f8"/>
<rect x="1216" y="0" width="1" height="18" fill="#a0a0a0"/>
<line x1="1684" y1="8.6" x2="1679.6" y2="13" stroke="#2a5ac8" stroke-width="2.4" stroke-linecap="round"/>
<circle cx="1686.8" cy="5.6" r="3.9" fill="#f4f6fa" stroke="#2a5ac8" stroke-width="1.5"/>
<ellipse cx="1720" cy="5" rx="6.6" ry="5.4" fill="#f2f2f6" stroke="#a0a0a8" stroke-width="0.9"/>
<path d="M1721.5 9.6l1.6 2.2.2-2.6z" fill="#8c8c94"/>
<ellipse cx="1710.4" cy="9.2" rx="5" ry="4" fill="#f2f2f6" stroke="#a0a0a8" stroke-width="0.9"/>
<path d="M1707 12.4l.6 2.4 1.8-2z" fill="#8c8c94"/>
</g>
<text x="74 86.2 98.4" y="11.4" font-size="12" fill="#000" font-family="Liberation Sans, Noto Sans CJK SC, sans-serif">新订单</text>
<text x="226.6 238.3 250 261.7" y="11.4" font-size="12" fill="#000" font-family="Liberation Sans, Noto Sans CJK SC, sans-serif">自动交易</text>
<text x="970.7" y="12.3" font-size="10" fill="#464646" textLength="12.5" lengthAdjust="spacingAndGlyphs" stroke="#464646" stroke-width="0.15" >M1</text>
<text x="998.2" y="12.3" font-size="10" fill="#464646" textLength="13.0" lengthAdjust="spacingAndGlyphs" stroke="#464646" stroke-width="0.15" >M5</text>
<text x="1024.3" y="12.3" font-size="10" fill="#464646" textLength="17.7" lengthAdjust="spacingAndGlyphs" stroke="#464646" stroke-width="0.15" >M15</text>
<text x="1052.5" y="12.3" font-size="10" fill="#464646" textLength="18.1" lengthAdjust="spacingAndGlyphs" stroke="#464646" stroke-width="0.15" >M30</text>
<text x="1083.3" y="12.3" font-size="10" fill="#464646" textLength="12.0" lengthAdjust="spacingAndGlyphs" stroke="#464646" stroke-width="0.15" >H1</text>
<text x="1110.5" y="12.3" font-size="10" fill="#464646" textLength="12.7" lengthAdjust="spacingAndGlyphs" stroke="#464646" stroke-width="0.15" >H4</text>
<text x="1139.2" y="12.3" font-size="10" fill="#464646" textLength="12.2" lengthAdjust="spacingAndGlyphs" stroke="#464646" stroke-width="0.15" >D1</text>
<text x="1167" y="12.3" font-size="10" fill="#464646" textLength="14.5" lengthAdjust="spacingAndGlyphs" stroke="#464646" stroke-width="0.15" >W1</text>
<text x="1193.5" y="12.3" font-size="10" fill="#464646" textLength="15.0" lengthAdjust="spacingAndGlyphs" stroke="#464646" stroke-width="0.15" >MN</text>
</svg>
</body></html>
